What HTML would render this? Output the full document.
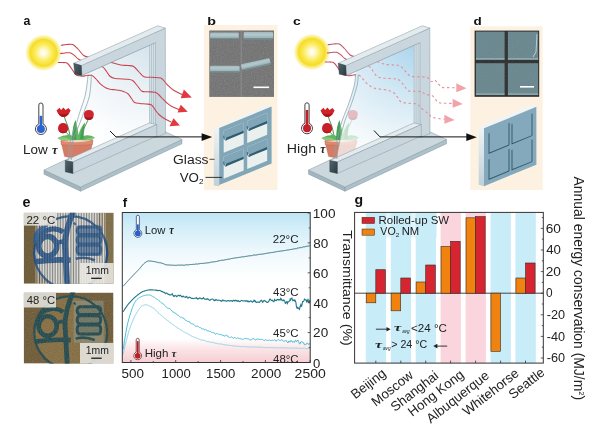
<!DOCTYPE html>
<html><head><meta charset="utf-8"><title>Figure</title>
<style>html,body{margin:0;padding:0;background:#fff;} svg{display:block;}</style>
</head><body><svg width="606" height="439" viewBox="0 0 606 439">
<defs>
 <radialGradient id="sunG" cx="0.5" cy="0.5" r="0.5">
  <stop offset="0" stop-color="#ffffff"/>
  <stop offset="0.14" stop-color="#fffbe0"/>
  <stop offset="0.45" stop-color="#fbec5e"/>
  <stop offset="0.72" stop-color="#f6dc26"/>
  <stop offset="0.77" stop-color="#f8e655"/>
  <stop offset="0.9" stop-color="#fbf1a0" stop-opacity="0.8"/>
  <stop offset="1" stop-color="#fdf8d0" stop-opacity="0"/>
 </radialGradient>
 <radialGradient id="glassA" gradientUnits="userSpaceOnUse" cx="153" cy="40" r="125">
  <stop offset="0" stop-color="#d2e2eb"/>
  <stop offset="0.4" stop-color="#e9f1f5"/>
  <stop offset="0.8" stop-color="#fcfdfe"/>
  <stop offset="1" stop-color="#ffffff"/>
 </radialGradient>
 <radialGradient id="glassC" gradientUnits="userSpaceOnUse" cx="153" cy="40" r="125">
  <stop offset="0" stop-color="#a8d3ed"/>
  <stop offset="0.45" stop-color="#d2e8f4"/>
  <stop offset="0.85" stop-color="#f2f8fb"/>
  <stop offset="1" stop-color="#fafcfe"/>
 </radialGradient>
 <linearGradient id="endG" x1="0" y1="0" x2="1" y2="1">
  <stop offset="0" stop-color="#52666e"/>
  <stop offset="1" stop-color="#2c3a40"/>
 </linearGradient>
 <linearGradient id="fBg" x1="0" y1="0" x2="0" y2="1">
  <stop offset="0" stop-color="#bde4f5"/>
  <stop offset="0.1" stop-color="#d3eef9"/>
  <stop offset="0.3" stop-color="#f3fafd"/>
  <stop offset="0.45" stop-color="#ffffff"/>
  <stop offset="0.84" stop-color="#ffffff"/>
  <stop offset="0.91" stop-color="#fbe4e7"/>
  <stop offset="1" stop-color="#f6ced3"/>
 </linearGradient>
 <filter id="semNoise" x="0" y="0" width="1" height="1">
  <feTurbulence type="fractalNoise" baseFrequency="0.9" numOctaves="2" seed="4" result="n"/>
  <feColorMatrix type="matrix" values="0 0 0 0 0.45  0 0 0 0 0.45  0 0 0 0 0.45  0.9 0 0 0 -0.1" in="n" result="c"/>
  <feComposite in="c" in2="SourceGraphic" operator="in"/>
 </filter>
 <filter id="soft" x="-0.2" y="-0.2" width="1.4" height="1.4"><feGaussianBlur stdDeviation="0.35"/></filter>
 <filter id="blur1" x="-0.2" y="-0.2" width="1.4" height="1.4"><feGaussianBlur stdDeviation="0.8"/></filter>
 <marker id="ah" viewBox="0 0 10 10" refX="9" refY="5" markerWidth="10" markerHeight="10" markerUnits="userSpaceOnUse" orient="auto">
  <path d="M0,0 L10,5 L0,10 z" fill="#111"/>
 </marker>
 <pattern id="stripes" patternUnits="userSpaceOnUse" width="1.62" height="10">
  <rect x="0" y="0" width="0.75" height="10" fill="#ffffff" opacity="0.7"/>
  <rect x="0.85" y="0" width="0.7" height="10" fill="#4a4a4a" opacity="0.4"/>
 </pattern>
 <linearGradient id="tubeG" x1="0" y1="0" x2="0" y2="1">
  <stop offset="0" stop-color="#9fb8be"/>
  <stop offset="0.35" stop-color="#b4c9cd"/>
  <stop offset="1" stop-color="#8fa8ae"/>
 </linearGradient>
 <linearGradient id="sideG" x1="0" y1="0" x2="0" y2="1">
  <stop offset="0" stop-color="#eef3f6"/>
  <stop offset="1" stop-color="#bfd0d8"/>
 </linearGradient>
</defs>
<rect x="0" y="0" width="606" height="439" fill="#ffffff"/><text transform="translate(23.53,25.20) scale(0.900,1)" font-family='"Liberation Sans", Arial, Helvetica, sans-serif' font-size="13.70" font-weight="bold" fill="#111">a</text><circle cx="43.5" cy="52.8" r="18.5" fill="url(#sunG)"/><g transform="translate(0,0)"><polygon points="44.0,170.0 80.5,187.0 80.5,191.2 44.0,174.2" fill="#a3b6bf" stroke="#8599a3" stroke-width="0.5"/><polygon points="80.5,187.0 182.0,139.5 182.0,143.7 80.5,191.2" fill="#aec0c9" stroke="#8599a3" stroke-width="0.5"/><polygon points="44.0,170.0 80.5,187.0 182.0,139.5 145.5,122.5" fill="#cbd8de" stroke="#8599a3" stroke-width="0.5"/><path d="M88.10,72.78 L149.4,45.4 L149.4,126 L68.70,162.00 L68.70,160.00 C68.80,158.00 68.92,151.58 69.30,148.00 C69.68,144.42 70.30,141.33 71.00,138.50 C71.70,135.67 72.55,133.67 73.50,131.00 C74.45,128.33 75.53,126.00 76.70,122.50 C77.87,119.00 79.17,114.18 80.50,110.00 C81.83,105.82 83.65,101.40 84.70,97.40 C85.75,93.40 86.23,89.80 86.80,86.00 C87.37,82.20 87.88,76.50 88.10,74.60 Z" fill="url(#glassA)"/></g><g transform="translate(0,0)"><path d="M71,140 Q69,127 64,116 M72,140 Q68,133 63.5,130 M80,139 Q84,127 88.5,119" stroke="#3f8a3a" stroke-width="0.9" fill="none"/><path d="M57.5,138 Q66,133.5 73,136 Q72,128 75.5,120 Q78,129 78.5,135 Q80.5,127 85,122.5 Q83,131 83,136 Q89,134 95,137.5 Q85,142 72,141.5 Q63,141 57.5,138 Z" fill="#62b564"/><path d="M75.5,120 Q76.5,130 76,140 L72,140 Q72,128 75.5,120 Z M85,122.5 Q84,132 83.5,139 L80,139 Q81,129 85,122.5 Z" fill="#3f9a4c" opacity="0.8"/><path d="M57.5,138 Q66,136 71,140 L60,140 Z M95,137.5 Q88,137 84,140 L92,140 Z" fill="#88cc78"/><path d="M60.9,141 L92.8,140.5 L89.8,156 Q77,159.5 64.6,156.5 Z" fill="#d67c64" stroke="#b0624f" stroke-width="0.4"/><path d="M60.9,140.6 L92.8,140.2 L92.4,144.6 Q77,146.2 61.3,144.8 Z" fill="#dc8a70" stroke="#b0624f" stroke-width="0.35"/><path d="M61.6,141 Q77,139 92,140.6 Q77,143.5 61.6,141 Z" fill="#e8dcc4"/><path d="M56.5,110.5 L59.5,107.8 L61,110 L63.5,107.4 L65.5,110 L68.5,108 L70.6,110.5 L68.5,114.5 Q66,117.5 63,117 Q59,116.5 56.5,110.5 Z" fill="#cf2328"/><path d="M58.5,113 Q63,115.5 68.5,113 Q66,117.3 63,117 Q60,116.6 58.5,113 Z" fill="#a3161c"/><ellipse cx="63.1" cy="128.2" rx="5.1" ry="5.1" fill="#c81f28"/><path d="M58.5,130 Q63,134.5 68,130 Q66,133.3 63,133.3 Q60,133.2 58.5,130 Z" fill="#9c141b"/><path d="M83.9,114.5 Q84,110 88.8,110 Q93.8,110 93.8,114.5 Q93.5,120 88.8,120 Q84,120 83.9,114.5 Z" fill="#cd2630"/><path d="M84.5,116.5 Q88.8,119 93.2,116.5 Q92,120 88.8,120 Q85.5,120 84.5,116.5 Z" fill="#a0161d"/></g><g transform="translate(0,0)"><polygon points="149.4,45.4 155.5,42.7 155.5,130.0 149.4,127.0" fill="#d9e4ea"/><path d="M149.6,45.4 L149.6,126.5 M151.6,44.5 L151.6,127.5 M153.6,43.6 L153.6,128.5" stroke="#9fb4bf" stroke-width="0.7" fill="none"/><polygon points="81.3,65.6 165.3,28.1 165.5,133.5 155.5,137.5 155.5,42.6 81.8,75.5" fill="#c9d6dd" stroke="#8599a3" stroke-width="0.5" stroke-linejoin="round"/><polygon points="68.0,162.0 149.4,126.0 155.5,130.0 155.5,133.0 70.0,170.0" fill="#d5e0e6"/><path d="M70,163.5 L151.6,127.5 M71,165.5 L153.6,128.8" stroke="#a9bcc6" stroke-width="0.6" fill="none"/></g><path d="M61.20,45.30 C62.17,45.17 65.07,44.62 67.00,44.50 C68.93,44.38 70.97,43.85 72.80,44.60 C74.63,45.35 76.18,47.18 78.00,49.00 C79.82,50.82 81.70,54.08 83.70,55.50 C85.70,56.92 87.62,57.08 90.00,57.50 C92.38,57.92 95.50,57.58 98.00,58.00 C100.50,58.42 102.48,59.17 105.00,60.00 C107.52,60.83 110.48,62.15 113.10,63.00 C115.72,63.85 118.22,64.68 120.70,65.10 C123.18,65.52 125.83,65.27 128.00,65.50 C130.17,65.73 131.87,65.42 133.70,66.50 C135.53,67.58 137.28,70.30 139.00,72.00 C140.72,73.70 141.83,75.82 144.00,76.70 C146.17,77.58 149.22,77.08 152.00,77.30 C154.78,77.52 158.53,77.22 160.70,78.00 C162.87,78.78 163.78,80.75 165.00,82.00 C166.22,83.25 166.50,84.08 168.00,85.50 C169.50,86.92 171.67,89.00 174.00,90.50 C176.33,92.00 180.67,93.83 182.00,94.50" stroke="#c9444f" stroke-width="1.05" fill="none" stroke-linecap="round"/><path d="M60.50,53.50 C61.25,53.42 63.42,53.12 65.00,53.00 C66.58,52.88 68.42,52.38 70.00,52.80 C71.58,53.22 73.12,54.47 74.50,55.50 C75.88,56.53 76.55,57.92 78.30,59.00 C80.05,60.08 82.22,61.17 85.00,62.00 C87.78,62.83 92.02,63.15 95.00,64.00 C97.98,64.85 100.98,65.85 102.90,67.10 C104.82,68.35 105.37,70.02 106.50,71.50 C107.63,72.98 108.45,74.87 109.70,76.00 C110.95,77.13 112.40,77.83 114.00,78.30 C115.60,78.77 116.97,78.63 119.30,78.80 C121.63,78.97 125.77,79.02 128.00,79.30 C130.23,79.58 131.12,79.38 132.70,80.50 C134.28,81.62 135.97,84.20 137.50,86.00 C139.03,87.80 140.15,90.33 141.90,91.30 C143.65,92.27 145.78,91.65 148.00,91.80 C150.22,91.95 153.37,91.67 155.20,92.20 C157.03,92.73 157.82,93.95 159.00,95.00 C160.18,96.05 160.97,97.17 162.30,98.50 C163.63,99.83 165.40,101.67 167.00,103.00 C168.60,104.33 169.90,105.42 171.90,106.50 C173.90,107.58 177.82,109.00 179.00,109.50" stroke="#c9444f" stroke-width="1.05" fill="none" stroke-linecap="round"/><path d="M58.40,62.40 C59.17,62.43 61.52,62.47 63.00,62.60 C64.48,62.73 65.88,62.22 67.30,63.20 C68.72,64.18 70.13,66.65 71.50,68.50 C72.87,70.35 74.25,73.08 75.50,74.30 C76.75,75.52 77.85,75.48 79.00,75.80 C80.15,76.12 81.07,76.25 82.40,76.20 C83.73,76.15 85.40,75.62 87.00,75.50 C88.60,75.38 90.50,74.92 92.00,75.50 C93.50,76.08 94.67,77.65 96.00,79.00 C97.33,80.35 98.40,82.15 100.00,83.60 C101.60,85.05 103.93,86.77 105.60,87.70 C107.27,88.63 108.40,88.85 110.00,89.20 C111.60,89.55 113.53,89.58 115.20,89.80 C116.87,90.02 118.53,90.18 120.00,90.50 C121.47,90.82 122.63,91.12 124.00,91.70 C125.37,92.28 126.95,92.87 128.20,94.00 C129.45,95.13 130.43,97.08 131.50,98.50 C132.57,99.92 133.18,101.67 134.60,102.50 C136.02,103.33 138.10,103.25 140.00,103.50 C141.90,103.75 144.13,103.78 146.00,104.00 C147.87,104.22 149.87,104.13 151.20,104.80 C152.53,105.47 153.20,106.97 154.00,108.00 C154.80,109.03 155.17,109.92 156.00,111.00 C156.83,112.08 157.68,113.30 159.00,114.50 C160.32,115.70 161.90,116.95 163.90,118.20 C165.90,119.45 169.82,121.37 171.00,122.00" stroke="#c9444f" stroke-width="1.05" fill="none" stroke-linecap="round"/><polygon points="191.8,97.5 183.9,89.5 180.7,98.3" fill="#e03a40"/><polygon points="187.8,111.8 180.7,104.7 177.5,112.6" fill="#e03a40"/><polygon points="179.9,125.4 173.5,118.2 169.5,126.2" fill="#e03a40"/><g transform="translate(0,0)"><polygon points="65.3,160.5 72.8,162.0 156.8,124.5 149.3,123.0" fill="#e4ebef" stroke="#8599a3" stroke-width="0.5"/><polygon points="72.8,162.0 72.8,173.5 156.8,136.0 156.8,124.5" fill="#c9d6dd" stroke="#8599a3" stroke-width="0.5"/><polygon points="65.3,160.5 72.8,162.0 72.8,173.5 65.3,171.8" fill="url(#endG)" stroke="#25333a" stroke-width="0.4"/></g><g transform="translate(0,0)"><polygon points="81.3,65.6 155.5,32.5 155.5,42.6 81.8,75.5" fill="#c9d6dd"/><path d="M81.8,75.5 L155.5,42.60" stroke="#8599a3" stroke-width="0.5"/><polygon points="73.7,63.3 81.3,65.6 165.3,28.1 157.7,25.8" fill="#e4ebef" stroke="#8599a3" stroke-width="0.5"/><polygon points="73.7,63.3 81.3,65.6 81.8,75.5 74.8,74.2" fill="url(#endG)" stroke="#25333a" stroke-width="0.4"/></g><path d="M88.10,74.60 C87.88,76.50 87.37,82.20 86.80,86.00 C86.23,89.80 85.75,93.40 84.70,97.40 C83.65,101.40 81.83,105.82 80.50,110.00 C79.17,114.18 77.87,119.00 76.70,122.50 C75.53,126.00 74.45,128.33 73.50,131.00 C72.55,133.67 71.70,135.67 71.00,138.50 C70.30,141.33 69.68,144.42 69.30,148.00 C68.92,151.58 68.80,158.00 68.70,160.00" stroke="#8aa3ae" stroke-width="0.75" fill="none"/><path d="M91.50,74.00 C91.37,76.00 91.08,82.17 90.70,86.00 C90.32,89.83 90.20,93.00 89.20,97.00 C88.20,101.00 86.22,105.75 84.70,110.00 C83.18,114.25 81.47,119.00 80.10,122.50 C78.73,126.00 77.63,128.33 76.50,131.00 C75.37,133.67 74.07,135.67 73.30,138.50 C72.53,141.33 72.22,144.42 71.90,148.00 C71.58,151.58 71.48,158.00 71.40,160.00" stroke="#8aa3ae" stroke-width="0.75" fill="none"/><path d="M38.80,123.92 L38.80,105.10 A2.10,2.10 0 0 1 43.00,105.10 L43.00,123.92 A5.50,5.50 0 1 1 38.80,123.92 Z" fill="#fff" stroke="#444" stroke-width="1.00"/><rect x="39.60" y="115.8" width="2.60" height="13.200000000000003" fill="#2a64d0"/><circle cx="40.9" cy="129" r="4.00" fill="#2a64d0"/><text transform="translate(22.92,153.80) scale(1.047,1)" font-family='"Liberation Sans", Arial, Helvetica, sans-serif' font-size="12.90" fill="#222">Low</text><text transform="translate(52.05,153.80) scale(0.988,1)" font-family='"Liberation Serif", "DejaVu Serif", serif' font-size="12.83" font-weight="bold" font-style="italic" fill="#222">τ</text><text transform="translate(207.27,25.10) scale(1.292,1)" font-family='"Liberation Sans", Arial, Helvetica, sans-serif' font-size="11.03" font-weight="bold" fill="#111">b</text><rect x="204" y="25" width="73.5" height="165" fill="#fdf2e2"/><rect x="209.3" y="30.5" width="64.7" height="66.4" fill="#6d6d6d"/><rect x="209.3" y="30.5" width="64.7" height="66.4" fill="#888" filter="url(#semNoise)" opacity="0.45"/><rect x="240.6" y="30.5" width="1.2" height="66.4" fill="#8b8b8b"/><rect x="209.3" y="63.5" width="64.7" height="0.8" fill="#7b7b7b"/><g transform="rotate(0,210.1,35.85)"><rect x="210.1" y="32.6" width="28.7" height="6.5" rx="1.2" fill="url(#tubeG)"/><rect x="210.4" y="37.9" width="28.099999999999998" height="1.0" fill="#5f7d86" opacity="0.7"/></g><g transform="rotate(0,243.7,35.7)"><rect x="243.7" y="32.1" width="29.5" height="7.2" rx="1.2" fill="url(#tubeG)"/><rect x="244.0" y="38.1" width="28.9" height="1.0" fill="#5f7d86" opacity="0.7"/></g><g transform="rotate(0,210.1,69.0)"><rect x="210.1" y="65.7" width="29.5" height="6.6" rx="1.2" fill="url(#tubeG)"/><rect x="210.4" y="71.1" width="28.9" height="1.0" fill="#5f7d86" opacity="0.7"/></g><g transform="rotate(-12.6,241.5,67.45)"><rect x="241.5" y="64.3" width="29.3" height="6.3" rx="1.2" fill="url(#tubeG)"/><rect x="241.8" y="69.39999999999999" width="28.7" height="1.0" fill="#5f7d86" opacity="0.7"/></g><line x1="253.5" y1="87.3" x2="269.1" y2="87.3" stroke="#fff" stroke-width="1.6"/><polygon points="213.8,128.8 219.2,128 219.2,186.3 213.8,185.5" fill="url(#sideG)"/><polygon points="213.8,128.8 219.2,128 271.8,106.4 267,105.6" fill="#eef4f7"/><g transform="matrix(1,-0.41,0,1,219.2,128)"><rect x="0" y="0" width="52.4" height="57" fill="#80a6b8"/><rect x="4.5" y="4.5" width="20" height="22" fill="#e9f0ee"/><rect x="4.5" y="4.5" width="20" height="8" fill="#80a6b8"/><rect x="6.5" y="12.5" width="18" height="2.6" fill="#2e5e70"/><path d="M4.5,9.5 q0,5 3,5.5" stroke="#2e5e70" stroke-width="0.8" fill="none"/><rect x="4.5" y="30.5" width="20" height="22" fill="#e9f0ee"/><rect x="4.5" y="30.5" width="20" height="8" fill="#80a6b8"/><rect x="6.5" y="38.5" width="18" height="2.6" fill="#2e5e70"/><path d="M4.5,35.5 q0,5 3,5.5" stroke="#2e5e70" stroke-width="0.8" fill="none"/><rect x="28" y="4.5" width="20" height="22" fill="#e9f0ee"/><rect x="28" y="4.5" width="20" height="8" fill="#80a6b8"/><rect x="30" y="12.5" width="18" height="2.6" fill="#2e5e70"/><path d="M28,9.5 q0,5 3,5.5" stroke="#2e5e70" stroke-width="0.8" fill="none"/><rect x="28" y="30.5" width="20" height="22" fill="#e9f0ee"/><rect x="28" y="30.5" width="20" height="8" fill="#80a6b8"/><rect x="30" y="38.5" width="18" height="2.6" fill="#2e5e70"/><path d="M28,35.5 q0,5 3,5.5" stroke="#2e5e70" stroke-width="0.8" fill="none"/></g><text transform="translate(173.00,163.50) scale(1.122,1)" font-family='"Liberation Sans", Arial, Helvetica, sans-serif' font-size="12.41" fill="#222">Glass</text><line x1="209.5" y1="159.3" x2="214.5" y2="159.3" stroke="#222" stroke-width="0.8"/><text transform="translate(179.73,181.60) scale(1.083,1)" font-family='"Liberation Sans", Arial, Helvetica, sans-serif' font-size="12.29" fill="#222">VO</text><text transform="translate(199.09,184.40) scale(1.265,1)" font-family='"Liberation Sans", Arial, Helvetica, sans-serif' font-size="6.43" fill="#222">2</text><line x1="205.5" y1="177.4" x2="222" y2="177.4" stroke="#222" stroke-width="0.9"/><polyline points="110,131 116,136.9 203,136.9" stroke="#111" stroke-width="1" fill="none"/><polygon points="201.6,133.3 212.2,137 201.6,141" fill="#111"/><text transform="translate(292.95,25.10) scale(1.203,1)" font-family='"Liberation Sans", Arial, Helvetica, sans-serif' font-size="11.48" font-weight="bold" fill="#111">c</text><circle cx="311.9" cy="52" r="18.5" fill="url(#sunG)"/><g transform="translate(264.5,0)"><polygon points="44.0,170.0 80.5,187.0 80.5,191.2 44.0,174.2" fill="#a3b6bf" stroke="#8599a3" stroke-width="0.5"/><polygon points="80.5,187.0 182.0,139.5 182.0,143.7 80.5,191.2" fill="#aec0c9" stroke="#8599a3" stroke-width="0.5"/><polygon points="44.0,170.0 80.5,187.0 182.0,139.5 145.5,122.5" fill="#cbd8de" stroke="#8599a3" stroke-width="0.5"/><path d="M91.00,71.49 L149.4,45.4 L149.4,126 L69.50,161.00 L69.50,159.00 C69.67,157.67 70.07,153.67 70.50,151.00 C70.93,148.33 71.55,145.67 72.10,143.00 C72.65,140.33 73.23,137.50 73.80,135.00 C74.37,132.50 74.88,130.33 75.50,128.00 C76.12,125.67 76.75,123.25 77.50,121.00 C78.25,118.75 79.12,116.77 80.00,114.50 C80.88,112.23 81.83,109.98 82.80,107.40 C83.77,104.82 84.88,101.73 85.80,99.00 C86.72,96.27 87.55,93.67 88.30,91.00 C89.05,88.33 89.85,85.73 90.30,83.00 C90.75,80.27 90.88,76.00 91.00,74.60 Z" fill="url(#glassC)"/></g><g transform="translate(264.0,0)"><path d="M71,140 Q69,127 64,116 M72,140 Q68,133 63.5,130 M80,139 Q84,127 88.5,119" stroke="#3f8a3a" stroke-width="0.9" fill="none"/><path d="M57.5,138 Q66,133.5 73,136 Q72,128 75.5,120 Q78,129 78.5,135 Q80.5,127 85,122.5 Q83,131 83,136 Q89,134 95,137.5 Q85,142 72,141.5 Q63,141 57.5,138 Z" fill="#62b564"/><path d="M75.5,120 Q76.5,130 76,140 L72,140 Q72,128 75.5,120 Z M85,122.5 Q84,132 83.5,139 L80,139 Q81,129 85,122.5 Z" fill="#3f9a4c" opacity="0.8"/><path d="M57.5,138 Q66,136 71,140 L60,140 Z M95,137.5 Q88,137 84,140 L92,140 Z" fill="#88cc78"/><path d="M60.9,141 L92.8,140.5 L89.8,156 Q77,159.5 64.6,156.5 Z" fill="#d67c64" stroke="#b0624f" stroke-width="0.4"/><path d="M60.9,140.6 L92.8,140.2 L92.4,144.6 Q77,146.2 61.3,144.8 Z" fill="#dc8a70" stroke="#b0624f" stroke-width="0.35"/><path d="M61.6,141 Q77,139 92,140.6 Q77,143.5 61.6,141 Z" fill="#e8dcc4"/><path d="M56.5,110.5 L59.5,107.8 L61,110 L63.5,107.4 L65.5,110 L68.5,108 L70.6,110.5 L68.5,114.5 Q66,117.5 63,117 Q59,116.5 56.5,110.5 Z" fill="#cf2328"/><path d="M58.5,113 Q63,115.5 68.5,113 Q66,117.3 63,117 Q60,116.6 58.5,113 Z" fill="#a3161c"/><ellipse cx="63.1" cy="128.2" rx="5.1" ry="5.1" fill="#c81f28"/><path d="M58.5,130 Q63,134.5 68,130 Q66,133.3 63,133.3 Q60,133.2 58.5,130 Z" fill="#9c141b"/><path d="M83.9,114.5 Q84,110 88.8,110 Q93.8,110 93.8,114.5 Q93.5,120 88.8,120 Q84,120 83.9,114.5 Z" fill="#cd2630"/><path d="M84.5,116.5 Q88.8,119 93.2,116.5 Q92,120 88.8,120 Q85.5,120 84.5,116.5 Z" fill="#a0161d"/></g><g transform="translate(264.5,0)"><path d="M93.80,74.60 C93.68,76.00 93.55,80.27 93.10,83.00 C92.65,85.73 91.85,88.33 91.10,91.00 C90.35,93.67 89.52,96.27 88.60,99.00 C87.68,101.73 86.57,104.82 85.60,107.40 C84.63,109.98 83.68,112.23 82.80,114.50 C81.92,116.77 81.05,118.75 80.30,121.00 C79.55,123.25 78.92,125.67 78.30,128.00 C77.68,130.33 77.17,132.50 76.60,135.00 C76.03,137.50 75.45,140.33 74.90,143.00 C74.35,145.67 73.73,148.33 73.30,151.00 C72.87,153.67 72.47,157.67 72.30,159.00 L72,163 L149.4,127 L149.4,45 Z" fill="url(#glassC)" opacity="0.72"/></g><g transform="translate(264.5,0)"><polygon points="149.4,45.4 155.5,42.7 155.5,130.0 149.4,127.0" fill="#d9e4ea"/><path d="M149.6,45.4 L149.6,126.5 M151.6,44.5 L151.6,127.5 M153.6,43.6 L153.6,128.5" stroke="#9fb4bf" stroke-width="0.7" fill="none"/><polygon points="81.3,65.6 165.3,28.1 165.5,133.5 155.5,137.5 155.5,42.6 81.8,75.5" fill="#c9d6dd" stroke="#8599a3" stroke-width="0.5" stroke-linejoin="round"/><polygon points="68.0,162.0 149.4,126.0 155.5,130.0 155.5,133.0 70.0,170.0" fill="#d5e0e6"/><path d="M70,163.5 L151.6,127.5 M71,165.5 L153.6,128.8" stroke="#a9bcc6" stroke-width="0.6" fill="none"/></g><clipPath id="glassside"><rect x="356.5" y="0" width="150" height="200"/></clipPath><path d="M327.70,44.80 C328.67,44.67 331.57,44.12 333.50,44.00 C335.43,43.88 337.47,43.35 339.30,44.10 C341.13,44.85 342.68,46.68 344.50,48.50 C346.32,50.32 348.20,53.58 350.20,55.00 C352.20,56.42 354.12,56.58 356.50,57.00 C358.88,57.42 362.00,57.08 364.50,57.50 C367.00,57.92 368.98,58.67 371.50,59.50 C374.02,60.33 376.98,61.65 379.60,62.50 C382.22,63.35 384.72,64.18 387.20,64.60 C389.68,65.02 392.33,64.77 394.50,65.00 C396.67,65.23 398.37,64.92 400.20,66.00 C402.03,67.08 403.78,69.80 405.50,71.50 C407.22,73.20 408.33,75.32 410.50,76.20 C412.67,77.08 415.72,76.58 418.50,76.80 C421.28,77.02 425.03,76.72 427.20,77.50 C429.37,78.28 430.27,81.08 431.50,81.50 C432.73,81.92 433.43,79.58 434.60,80.00 C435.77,80.42 437.28,82.78 438.50,84.00 C439.72,85.22 440.32,86.70 441.90,87.30 C443.48,87.90 445.65,87.52 448.00,87.60 C450.35,87.68 454.67,87.77 456.00,87.80" stroke="#e48f99" stroke-width="1.1" fill="none" stroke-dasharray="2.4,2.6" clip-path="url(#glassside)"/><path d="M327.00,53.00 C327.75,52.92 329.92,52.62 331.50,52.50 C333.08,52.38 334.92,51.88 336.50,52.30 C338.08,52.72 339.62,53.97 341.00,55.00 C342.38,56.03 343.05,57.42 344.80,58.50 C346.55,59.58 348.72,60.67 351.50,61.50 C354.28,62.33 358.52,62.65 361.50,63.50 C364.48,64.35 367.48,65.35 369.40,66.60 C371.32,67.85 371.87,69.52 373.00,71.00 C374.13,72.48 374.95,74.37 376.20,75.50 C377.45,76.63 378.90,77.33 380.50,77.80 C382.10,78.27 383.47,78.13 385.80,78.30 C388.13,78.47 392.27,78.52 394.50,78.80 C396.73,79.08 397.62,78.88 399.20,80.00 C400.78,81.12 402.47,83.70 404.00,85.50 C405.53,87.30 406.65,89.83 408.40,90.80 C410.15,91.77 412.28,91.15 414.50,91.30 C416.72,91.45 419.87,91.17 421.70,91.70 C423.53,92.23 423.80,93.87 425.50,94.50 C427.20,95.13 430.23,94.67 431.90,95.50 C433.57,96.33 434.28,98.28 435.50,99.50 C436.72,100.72 437.45,102.18 439.20,102.80 C440.95,103.42 443.70,103.10 446.00,103.20 C448.30,103.30 451.83,103.37 453.00,103.40" stroke="#e48f99" stroke-width="1.1" fill="none" stroke-dasharray="2.4,2.6" clip-path="url(#glassside)"/><path d="M324.90,61.90 C325.67,61.93 328.02,61.97 329.50,62.10 C330.98,62.23 332.38,61.72 333.80,62.70 C335.22,63.68 336.63,66.15 338.00,68.00 C339.37,69.85 340.75,72.58 342.00,73.80 C343.25,75.02 344.35,74.98 345.50,75.30 C346.65,75.62 347.57,75.75 348.90,75.70 C350.23,75.65 351.90,75.12 353.50,75.00 C355.10,74.88 357.00,74.42 358.50,75.00 C360.00,75.58 361.17,77.15 362.50,78.50 C363.83,79.85 364.90,81.65 366.50,83.10 C368.10,84.55 370.43,86.27 372.10,87.20 C373.77,88.13 374.90,88.35 376.50,88.70 C378.10,89.05 380.03,89.08 381.70,89.30 C383.37,89.52 385.03,89.68 386.50,90.00 C387.97,90.32 389.13,90.62 390.50,91.20 C391.87,91.78 393.45,92.37 394.70,93.50 C395.95,94.63 396.93,96.58 398.00,98.00 C399.07,99.42 399.68,101.17 401.10,102.00 C402.52,102.83 404.60,102.75 406.50,103.00 C408.40,103.25 410.63,103.28 412.50,103.50 C414.37,103.72 416.37,103.63 417.70,104.30 C419.03,104.97 418.90,106.08 420.50,107.50 C422.10,108.92 425.72,111.47 427.30,112.80 C428.88,114.13 429.08,114.73 430.00,115.50 C430.92,116.27 431.47,116.90 432.80,117.40 C434.13,117.90 435.97,118.20 438.00,118.50 C440.03,118.80 443.83,119.08 445.00,119.20" stroke="#e48f99" stroke-width="1.1" fill="none" stroke-dasharray="2.4,2.6" clip-path="url(#glassside)"/><clipPath id="sunside"><rect x="300" y="0" width="56" height="120"/></clipPath><path d="M327.70,44.80 C328.67,44.67 331.57,44.12 333.50,44.00 C335.43,43.88 337.47,43.35 339.30,44.10 C341.13,44.85 342.68,46.68 344.50,48.50 C346.32,50.32 348.20,53.58 350.20,55.00 C352.20,56.42 354.12,56.58 356.50,57.00 C358.88,57.42 362.00,57.08 364.50,57.50 C367.00,57.92 368.98,58.67 371.50,59.50 C374.02,60.33 376.98,61.65 379.60,62.50 C382.22,63.35 384.72,64.18 387.20,64.60 C389.68,65.02 392.33,64.77 394.50,65.00 C396.67,65.23 398.37,64.92 400.20,66.00 C402.03,67.08 403.78,69.80 405.50,71.50 C407.22,73.20 408.33,75.32 410.50,76.20 C412.67,77.08 415.72,76.58 418.50,76.80 C421.28,77.02 425.03,76.72 427.20,77.50 C429.37,78.28 430.27,81.08 431.50,81.50 C432.73,81.92 433.43,79.58 434.60,80.00 C435.77,80.42 437.28,82.78 438.50,84.00 C439.72,85.22 440.32,86.70 441.90,87.30 C443.48,87.90 445.65,87.52 448.00,87.60 C450.35,87.68 454.67,87.77 456.00,87.80" stroke="#c45468" stroke-width="1.05" fill="none" clip-path="url(#sunside)"/><path d="M327.00,53.00 C327.75,52.92 329.92,52.62 331.50,52.50 C333.08,52.38 334.92,51.88 336.50,52.30 C338.08,52.72 339.62,53.97 341.00,55.00 C342.38,56.03 343.05,57.42 344.80,58.50 C346.55,59.58 348.72,60.67 351.50,61.50 C354.28,62.33 358.52,62.65 361.50,63.50 C364.48,64.35 367.48,65.35 369.40,66.60 C371.32,67.85 371.87,69.52 373.00,71.00 C374.13,72.48 374.95,74.37 376.20,75.50 C377.45,76.63 378.90,77.33 380.50,77.80 C382.10,78.27 383.47,78.13 385.80,78.30 C388.13,78.47 392.27,78.52 394.50,78.80 C396.73,79.08 397.62,78.88 399.20,80.00 C400.78,81.12 402.47,83.70 404.00,85.50 C405.53,87.30 406.65,89.83 408.40,90.80 C410.15,91.77 412.28,91.15 414.50,91.30 C416.72,91.45 419.87,91.17 421.70,91.70 C423.53,92.23 423.80,93.87 425.50,94.50 C427.20,95.13 430.23,94.67 431.90,95.50 C433.57,96.33 434.28,98.28 435.50,99.50 C436.72,100.72 437.45,102.18 439.20,102.80 C440.95,103.42 443.70,103.10 446.00,103.20 C448.30,103.30 451.83,103.37 453.00,103.40" stroke="#c45468" stroke-width="1.05" fill="none" clip-path="url(#sunside)"/><path d="M324.90,61.90 C325.67,61.93 328.02,61.97 329.50,62.10 C330.98,62.23 332.38,61.72 333.80,62.70 C335.22,63.68 336.63,66.15 338.00,68.00 C339.37,69.85 340.75,72.58 342.00,73.80 C343.25,75.02 344.35,74.98 345.50,75.30 C346.65,75.62 347.57,75.75 348.90,75.70 C350.23,75.65 351.90,75.12 353.50,75.00 C355.10,74.88 357.00,74.42 358.50,75.00 C360.00,75.58 361.17,77.15 362.50,78.50 C363.83,79.85 364.90,81.65 366.50,83.10 C368.10,84.55 370.43,86.27 372.10,87.20 C373.77,88.13 374.90,88.35 376.50,88.70 C378.10,89.05 380.03,89.08 381.70,89.30 C383.37,89.52 385.03,89.68 386.50,90.00 C387.97,90.32 389.13,90.62 390.50,91.20 C391.87,91.78 393.45,92.37 394.70,93.50 C395.95,94.63 396.93,96.58 398.00,98.00 C399.07,99.42 399.68,101.17 401.10,102.00 C402.52,102.83 404.60,102.75 406.50,103.00 C408.40,103.25 410.63,103.28 412.50,103.50 C414.37,103.72 416.37,103.63 417.70,104.30 C419.03,104.97 418.90,106.08 420.50,107.50 C422.10,108.92 425.72,111.47 427.30,112.80 C428.88,114.13 429.08,114.73 430.00,115.50 C430.92,116.27 431.47,116.90 432.80,117.40 C434.13,117.90 435.97,118.20 438.00,118.50 C440.03,118.80 443.83,119.08 445.00,119.20" stroke="#c45468" stroke-width="1.05" fill="none" clip-path="url(#sunside)"/><polygon points="466.5,88.3 456.3,83.2 456.3,92.2" fill="#f1a3aa"/><polygon points="462.8,103.9 452.6,98.8 452.6,107.8" fill="#f1a3aa"/><polygon points="454.6,120.0 444.4,114.8 444.4,123.8" fill="#f1a3aa"/><g transform="translate(264.5,0)"><polygon points="65.3,160.5 72.8,162.0 156.8,124.5 149.3,123.0" fill="#e4ebef" stroke="#8599a3" stroke-width="0.5"/><polygon points="72.8,162.0 72.8,173.5 156.8,136.0 156.8,124.5" fill="#c9d6dd" stroke="#8599a3" stroke-width="0.5"/><polygon points="65.3,160.5 72.8,162.0 72.8,173.5 65.3,171.8" fill="url(#endG)" stroke="#25333a" stroke-width="0.4"/></g><g transform="translate(264.5,0)"><polygon points="81.3,65.6 155.5,32.5 155.5,42.6 81.8,75.5" fill="#c9d6dd"/><path d="M81.8,75.5 L155.5,42.60" stroke="#8599a3" stroke-width="0.5"/><polygon points="73.7,63.3 81.3,65.6 165.3,28.1 157.7,25.8" fill="#e4ebef" stroke="#8599a3" stroke-width="0.5"/><polygon points="73.7,63.3 81.3,65.6 81.8,75.5 74.8,74.2" fill="url(#endG)" stroke="#25333a" stroke-width="0.4"/></g><path d="M355.50,74.60 C355.38,76.00 355.25,80.27 354.80,83.00 C354.35,85.73 353.55,88.33 352.80,91.00 C352.05,93.67 351.22,96.27 350.30,99.00 C349.38,101.73 348.27,104.82 347.30,107.40 C346.33,109.98 345.38,112.23 344.50,114.50 C343.62,116.77 342.75,118.75 342.00,121.00 C341.25,123.25 340.62,125.67 340.00,128.00 C339.38,130.33 338.87,132.50 338.30,135.00 C337.73,137.50 337.15,140.33 336.60,143.00 C336.05,145.67 335.43,148.33 335.00,151.00 C334.57,153.67 334.17,157.67 334.00,159.00" stroke="#8aa3ae" stroke-width="0.75" fill="none"/><path d="M358.30,74.60 C358.18,76.00 358.05,80.27 357.60,83.00 C357.15,85.73 356.35,88.33 355.60,91.00 C354.85,93.67 354.02,96.27 353.10,99.00 C352.18,101.73 351.07,104.82 350.10,107.40 C349.13,109.98 348.18,112.23 347.30,114.50 C346.42,116.77 345.55,118.75 344.80,121.00 C344.05,123.25 343.42,125.67 342.80,128.00 C342.18,130.33 341.67,132.50 341.10,135.00 C340.53,137.50 339.95,140.33 339.40,143.00 C338.85,145.67 338.23,148.33 337.80,151.00 C337.37,153.67 336.97,157.67 336.80,159.00" stroke="#8aa3ae" stroke-width="0.75" fill="none"/><path d="M304.90,123.22 L304.90,104.90 A2.10,2.10 0 0 1 309.10,104.90 L309.10,123.22 A5.50,5.50 0 1 1 304.90,123.22 Z" fill="#fff" stroke="#444" stroke-width="1.00"/><rect x="305.70" y="110" width="2.60" height="18.30000000000001" fill="#c41e2a"/><circle cx="307" cy="128.3" r="4.00" fill="#c41e2a"/><text transform="translate(286.86,152.60) scale(1.156,1)" font-family='"Liberation Sans", Arial, Helvetica, sans-serif' font-size="12.28" fill="#222">High</text><text transform="translate(320.37,152.60) scale(0.901,1)" font-family='"Liberation Serif", "DejaVu Serif", serif' font-size="12.83" font-weight="bold" font-style="italic" fill="#222">τ</text><text transform="translate(473.46,24.60) scale(1.191,1)" font-family='"Liberation Sans", Arial, Helvetica, sans-serif' font-size="11.31" font-weight="bold" fill="#111">d</text><rect x="470.3" y="26.3" width="72.4" height="163.7" fill="#fdf2e2"/><rect x="474.6" y="30.6" width="64.6" height="66.2" fill="#2b2c2c"/><rect x="475.9" y="31.6" width="28.7" height="28.4" fill="#68868e"/><rect x="475.9" y="58.4" width="28.7" height="0.9" fill="#b9ccd0" opacity="0.8"/><rect x="507.9" y="31.6" width="30.3" height="28.4" fill="#68868e"/><rect x="507.9" y="58.4" width="30.3" height="0.9" fill="#b9ccd0" opacity="0.8"/><rect x="475.9" y="63.2" width="28.7" height="32" fill="#68868e"/><rect x="475.9" y="93.60000000000001" width="28.7" height="0.9" fill="#b9ccd0" opacity="0.8"/><rect x="507.9" y="63.2" width="30.3" height="32" fill="#68868e"/><rect x="507.9" y="93.60000000000001" width="30.3" height="0.9" fill="#b9ccd0" opacity="0.8"/><rect x="475.9" y="31.6" width="62.3" height="63.6" fill="#7a9aa2" opacity="0.2" filter="url(#semNoise)"/><path d="M537,34 L536,52 L533,57" stroke="#dde6e8" stroke-width="0.7" fill="none"/><line x1="520" y1="86.8" x2="534" y2="86.8" stroke="#fff" stroke-width="1.6"/><polygon points="478.7,127.4 484,128.3 484,186.2 478.7,184.8" fill="url(#sideG)"/><polygon points="478.7,127.4 484,128.3 536.4,106.9 532,105.2" fill="#eef4f7"/><g transform="matrix(1,-0.41,0,1,484,128.3)"><rect x="0" y="0" width="52.4" height="57.9" fill="#84a9bc"/><path d="M5,7 L5,27 L25,27" stroke="#2f5566" stroke-width="0.9" fill="none"/><path d="M25,5 L25,27" stroke="#2f5566" stroke-width="0.9" fill="none"/><path d="M5,33 L5,53 L25,53" stroke="#2f5566" stroke-width="0.9" fill="none"/><path d="M25,31 L25,53" stroke="#2f5566" stroke-width="0.9" fill="none"/><path d="M28,7 L28,27 L48,27" stroke="#2f5566" stroke-width="0.9" fill="none"/><path d="M48,5 L48,27" stroke="#2f5566" stroke-width="0.9" fill="none"/><path d="M28,33 L28,53 L48,53" stroke="#2f5566" stroke-width="0.9" fill="none"/><path d="M48,31 L48,53" stroke="#2f5566" stroke-width="0.9" fill="none"/></g><polyline points="374,130.5 380,136.9 467,136.9" stroke="#111" stroke-width="1" fill="none"/><polygon points="466.3,133.3 476.8,137.2 466.3,141" fill="#111"/><text transform="translate(22.62,207.00) scale(0.995,1)" font-family='"Liberation Sans", Arial, Helvetica, sans-serif' font-size="14.44" font-weight="bold" fill="#111">e</text><clipPath id="clipP212"><rect x="23.7" y="212.7" width="89.8" height="71"/></clipPath><g clip-path="url(#clipP212)"><rect x="23.7" y="212.7" width="89.8" height="71" fill="#6a5833"/><g transform="translate(23.7,212.7)"><rect x="76" y="0" width="14" height="71" fill="#7d6b45"/><circle cx="47" cy="40" r="36.5" fill="#a9a8a0"/><rect x="12" y="0" width="62" height="12" fill="#a9a8a0"/><rect x="12" y="0" width="70" height="71" fill="url(#stripes)"/><circle cx="47" cy="40" r="36.5" fill="none" stroke="#174579" stroke-width="2.3"/><ellipse cx="24" cy="33.5" rx="9" ry="9.8" fill="none" stroke="#174579" stroke-width="5.6"/><path d="M14.5,33 Q13,19 27,16.5 Q35,15.5 39.5,19.5" fill="none" stroke="#174579" stroke-width="5.04"/><path d="M32.5,31 Q37,28 41,29" fill="none" stroke="#174579" stroke-width="4.4799999999999995"/><path d="M49.5,-1 Q41.5,18 41.3,32 L43.6,73" fill="none" stroke="#174579" stroke-width="5.88"/><path d="M11,49 Q30,46.3 47,47.5" fill="none" stroke="#174579" stroke-width="5.6"/><rect x="53" y="13" width="25" height="30" fill="#174579" opacity="0.7"/><rect x="53.5" y="14.2" width="23.5" height="7.6" rx="3.2" fill="none" stroke="#174579" stroke-width="3"/><rect x="53.5" y="23.2" width="23.5" height="8.2" rx="3.2" fill="none" stroke="#174579" stroke-width="3"/><rect x="53.5" y="32.5" width="23.5" height="9" rx="3.2" fill="none" stroke="#174579" stroke-width="3"/><path d="M52,46 Q62,43.5 71,47.5" fill="none" stroke="#174579" stroke-width="2.6"/><path d="M50,10 L52,12" fill="none" stroke="#174579" stroke-width="2"/><path d="M12,30 Q10,18 22,14" fill="none" stroke="#1f5288" stroke-width="4"/><rect x="12" y="0" width="70" height="71" fill="url(#stripes)" opacity="0.32"/><rect x="0" y="0" width="90" height="71" fill="#7a6a48" opacity="0.25" filter="url(#semNoise)"/></g></g><rect x="23.7" y="212.7" width="32.3" height="12.9" fill="#e6e5df" opacity="0.88"/><text transform="translate(26.42,224.10) scale(0.986,1)" font-family='"Liberation Sans", Arial, Helvetica, sans-serif' font-size="11.71" fill="#222">22 °C</text><rect x="80" y="263.0" width="33.5" height="20.7" fill="#e9e8e3" opacity="0.88"/><text transform="translate(85.82,273.90) scale(0.945,1)" font-family='"Liberation Sans", Arial, Helvetica, sans-serif' font-size="11.01" fill="#222">1mm</text><line x1="91.2" y1="278.3" x2="101.7" y2="278.3" stroke="#111" stroke-width="1.2"/><clipPath id="clipP292"><rect x="23.7" y="292.6" width="89.8" height="71"/></clipPath><g clip-path="url(#clipP292)"><rect x="23.7" y="292.6" width="89.8" height="71" fill="#6c5630"/><g transform="translate(23.7,292.6)"><circle cx="47" cy="40" r="36.5" fill="#836a3b"/><rect x="50" y="8" width="30" height="42" fill="#8e9588" opacity="0.55"/><circle cx="47" cy="40" r="36.5" fill="none" stroke="#1b4449" stroke-width="2.3"/><ellipse cx="24" cy="33.5" rx="9" ry="9.8" fill="none" stroke="#1b4449" stroke-width="4.6"/><path d="M14.5,33 Q13,19 27,16.5 Q35,15.5 39.5,19.5" fill="none" stroke="#1b4449" stroke-width="4.14"/><path d="M32.5,31 Q37,28 41,29" fill="none" stroke="#1b4449" stroke-width="3.6799999999999997"/><path d="M49.5,-1 Q41.5,18 41.3,32 L43.6,73" fill="none" stroke="#1b4449" stroke-width="4.83"/><path d="M11,49 Q30,46.3 47,47.5" fill="none" stroke="#1b4449" stroke-width="4.6"/><rect x="53" y="13" width="25" height="30" fill="#1b4449" opacity="0.25"/><rect x="53.5" y="14.2" width="23.5" height="7.6" rx="3.2" fill="none" stroke="#1b4449" stroke-width="3"/><rect x="53.5" y="23.2" width="23.5" height="8.2" rx="3.2" fill="none" stroke="#1b4449" stroke-width="3"/><rect x="53.5" y="32.5" width="23.5" height="9" rx="3.2" fill="none" stroke="#1b4449" stroke-width="3"/><path d="M52,46 Q62,43.5 71,47.5" fill="none" stroke="#1b4449" stroke-width="2.6"/><path d="M50,10 L52,12" fill="none" stroke="#1b4449" stroke-width="2"/><rect x="0" y="0" width="90" height="71" fill="#b8a070" opacity="0.35" filter="url(#semNoise)"/></g></g><rect x="23.7" y="292.6" width="32.3" height="14.9" fill="#e6e5df" opacity="0.88"/><text transform="translate(26.77,304.00) scale(0.963,1)" font-family='"Liberation Sans", Arial, Helvetica, sans-serif' font-size="11.71" fill="#222">48 °C</text><rect x="80" y="342.90000000000003" width="33.5" height="20.7" fill="#e9e8e3" opacity="0.88"/><text transform="translate(85.82,353.80) scale(0.945,1)" font-family='"Liberation Sans", Arial, Helvetica, sans-serif' font-size="11.01" fill="#222">1mm</text><line x1="91.2" y1="358.20000000000005" x2="101.7" y2="358.20000000000005" stroke="#111" stroke-width="1.2"/><text transform="translate(122.70,207.00) scale(1.023,1)" font-family='"Liberation Sans", Arial, Helvetica, sans-serif' font-size="12.83" font-weight="bold" fill="#111">f</text><rect x="122.3" y="212.5" width="187.89999999999998" height="150.0" fill="url(#fBg)"/><path d="M123.19,354.28 L123.64,352.23 L124.08,350.21 L124.53,348.23 L124.98,346.28 L125.42,344.38 L125.87,342.52 L126.31,340.71 L126.76,338.94 L127.21,337.23 L127.65,335.57 L128.10,333.96 L128.55,332.42 L128.99,330.93 L129.44,329.51 L129.88,328.16 L130.33,326.87 L130.78,325.66 L131.22,324.50 L131.67,323.37 L132.12,322.27 L132.56,321.19 L133.01,320.15 L133.46,319.14 L133.90,318.16 L134.35,317.21 L134.79,316.29 L135.24,315.41 L135.69,314.56 L136.13,313.74 L136.58,312.96 L137.03,312.21 L137.47,311.50 L137.92,310.82 L138.37,310.18 L138.81,309.58 L139.26,308.99 L139.70,308.40 L140.15,307.84 L140.60,307.32 L141.04,306.84 L141.49,306.41 L141.94,306.05 L142.38,305.77 L142.83,305.57 L143.27,305.37 L143.72,305.20 L144.17,305.04 L144.61,304.92 L145.06,304.83 L145.51,304.79 L145.95,304.80 L146.40,304.85 L146.85,304.93 L147.29,305.05 L147.74,305.19 L148.18,305.35 L148.63,305.54 L149.08,305.74 L149.52,305.96 L149.97,306.20 L150.42,306.44 L150.86,306.69 L151.31,306.95 L151.75,307.21 L152.20,307.46 L152.65,307.71 L153.09,307.99 L153.54,308.30 L153.99,308.64 L154.43,308.99 L154.88,309.38 L155.33,309.79 L155.77,310.20 L156.22,310.59 L156.66,311.05 L157.11,311.55 L157.56,312.03 L158.00,312.48 L158.45,312.85 L158.90,313.27 L159.34,313.75 L159.79,314.26 L160.24,314.62 L160.68,314.88 L161.13,315.23 L161.57,315.65 L162.02,316.04 L162.47,316.34 L162.91,316.64 L163.36,317.02 L163.81,317.43 L164.25,317.88 L164.70,318.18 L165.14,318.73 L165.59,319.08 L166.04,319.54 L166.48,319.82 L166.93,320.13 L167.38,320.55 L167.82,320.67 L168.27,321.06 L168.72,321.28 L169.16,321.58 L169.61,321.87 L170.05,322.36 L170.50,322.97 L170.95,323.16 L171.39,323.42 L171.84,323.67 L172.29,324.16 L172.73,324.50 L173.18,324.68 L173.62,325.01 L174.07,325.32 L174.52,325.80 L174.96,326.07 L175.41,326.50 L175.86,326.67 L176.30,326.88 L176.75,327.23 L177.20,327.85 L177.64,328.24 L178.09,328.12 L178.53,328.27 L178.98,328.74 L179.43,329.21 L179.87,329.46 L180.32,329.66 L180.77,330.01 L181.21,330.14 L181.66,330.40 L182.10,330.60 L182.55,330.93 L183.00,331.24 L183.44,331.56 L183.89,331.90 L184.34,332.07 L184.78,332.41 L185.23,332.68 L185.68,332.79 L186.12,332.94 L186.57,333.09 L187.01,333.44 L187.46,333.72 L187.91,333.99 L188.35,334.24 L188.80,334.41 L189.25,334.74 L189.69,334.94 L190.14,335.26 L190.59,335.48 L191.03,335.88 L191.48,336.09 L191.92,336.04 L192.37,336.29 L192.82,336.45 L193.26,337.04 L193.71,337.13 L194.16,337.26 L194.60,337.27 L195.05,337.52 L195.49,337.78 L195.94,337.87 L196.39,337.93 L196.83,337.93 L197.28,338.15 L197.73,338.45 L198.17,338.82 L198.62,339.00 L199.07,339.09 L199.51,339.22 L199.96,339.34 L200.40,339.65 L200.85,339.70 L201.30,339.91 L201.74,339.99 L202.19,340.14 L202.64,340.08 L203.08,340.04 L203.53,340.21 L203.97,340.56 L204.42,340.44 L204.87,340.49 L205.31,340.62 L205.76,341.10 L206.21,341.29 L206.65,341.45 L207.10,341.46 L207.55,341.62 L207.99,341.45 L208.44,341.48 L208.88,341.80 L209.33,342.02 L209.78,342.38 L210.22,342.10 L210.67,342.18 L211.12,342.06 L211.56,342.37 L212.01,342.30 L212.45,342.24 L212.90,342.33 L213.35,342.56 L213.79,342.92 L214.24,342.90 L214.69,343.15 L215.13,342.98 L215.58,343.16 L216.03,343.14 L216.47,343.36 L216.92,343.41 L217.36,343.48 L217.81,343.66 L218.26,343.69 L218.70,343.86 L219.15,343.92 L219.60,344.00 L220.04,343.99 L220.49,344.01 L220.94,344.09 L221.38,344.06 L221.83,344.17 L222.27,344.23 L222.72,344.44 L223.17,344.53 L223.61,344.71 L224.06,344.67 L224.51,344.80 L224.95,344.82 L225.40,344.90 L225.84,344.81 L226.29,344.85 L226.74,345.15 L227.18,345.22 L227.63,345.21 L228.08,345.22 L228.52,345.25 L228.97,345.41 L229.42,345.44 L229.86,345.57 L230.31,345.57 L230.75,345.50 L231.20,345.73 L231.65,345.58 L232.09,345.72 L232.54,345.76 L232.99,345.94 L233.43,345.96 L233.88,345.83 L234.32,345.97 L234.77,345.99 L235.22,346.04 L235.66,346.12 L236.11,346.09 L236.56,346.20 L237.00,346.25 L237.45,346.35 L237.90,346.29 L238.34,346.26 L238.79,346.39 L239.23,346.40 L239.68,346.58 L240.13,346.62 L240.57,346.71 L241.02,346.69 L241.47,346.61 L241.91,346.65 L242.36,346.45 L242.81,346.57 L243.25,346.65 L243.70,346.73 L244.14,346.90 L244.59,346.55 L245.04,346.68 L245.48,346.53 L245.93,346.77 L246.38,346.73 L246.82,346.85 L247.27,346.90 L247.71,346.83 L248.16,346.71 L248.61,346.82 L249.05,346.88 L249.50,346.94 L249.95,346.89 L250.39,346.94 L250.84,346.93 L251.29,347.13 L251.73,347.19 L252.18,347.23 L252.62,347.00 L253.07,346.98 L253.52,346.83 L253.96,346.94 L254.41,346.94 L254.86,347.11 L255.30,347.07 L255.75,346.94 L256.19,346.90 L256.64,347.04 L257.09,347.25 L257.53,347.28 L257.98,347.31 L258.43,347.29 L258.87,347.29 L259.32,347.09 L259.77,347.12 L260.21,347.07 L260.66,347.13 L261.10,347.17 L261.55,347.08 L262.00,347.25 L262.44,347.31 L262.89,347.51 L263.34,347.47 L263.78,347.54 L264.23,347.52 L264.67,347.69 L265.12,347.42 L265.57,347.44 L266.01,347.35 L266.46,347.60 L266.91,347.64 L267.35,347.61 L267.80,347.64 L268.25,347.70 L268.69,347.71 L269.14,347.68 L269.58,347.50 L270.03,347.38 L270.48,347.34 L270.92,347.40 L271.37,347.66 L271.82,347.61 L272.26,347.68 L272.71,347.51 L273.16,347.43 L273.60,347.66 L274.05,347.70 L274.49,347.98 L274.94,347.71 L275.39,347.88 L275.83,347.83 L276.28,347.88 L276.73,347.70 L277.17,347.66 L277.62,347.77 L278.06,347.90 L278.51,347.83 L278.96,347.76 L279.40,347.89 L279.85,347.90 L280.30,347.87 L280.74,347.63 L281.19,347.76 L281.64,347.73 L282.08,347.93 L282.53,347.86 L282.97,348.00 L283.42,347.84 L283.87,347.81 L284.31,347.84 L284.76,347.92 L285.21,348.03 L285.65,347.85 L286.10,347.79 L286.54,347.92 L286.99,348.01 L287.44,348.01 L287.88,347.69 L288.33,347.92 L288.78,348.05 L289.22,348.14 L289.67,348.12 L290.12,348.20 L290.56,348.29 L291.01,348.06 L291.45,348.02 L291.90,348.03 L292.35,348.13 L292.79,347.92 L293.24,347.99 L293.69,347.91 L294.13,348.16 L294.58,348.19 L295.02,348.30 L295.47,348.11 L295.92,348.04 L296.36,348.12 L296.81,348.17 L297.26,348.16 L297.70,348.11 L298.15,348.21 L298.60,348.32 L299.04,348.48 L299.49,348.45 L299.93,348.41 L300.38,348.34 L300.83,348.29 L301.27,348.46 L301.72,348.43 L302.17,348.56 L302.61,348.24 L303.06,348.35 L303.51,348.25 L303.95,348.36 L304.40,348.18 L304.84,348.12 L305.29,348.32 L305.74,348.59 L306.18,348.64 L306.63,348.67 L307.08,348.48 L307.52,348.68 L307.97,348.46 L308.41,348.35 L308.86,348.31 L309.31,348.33 L309.75,348.41 L310.20,348.34" stroke="#8fd4e6" stroke-width="1" fill="none"/><path d="M123.19,349.34 L123.64,346.40 L124.08,343.49 L124.53,340.65 L124.98,337.89 L125.42,335.20 L125.87,332.62 L126.31,330.16 L126.76,327.82 L127.21,325.62 L127.65,323.57 L128.10,321.69 L128.55,319.99 L128.99,318.44 L129.44,316.92 L129.88,315.43 L130.33,313.98 L130.78,312.57 L131.22,311.20 L131.67,309.88 L132.12,308.62 L132.56,307.42 L133.01,306.27 L133.46,305.20 L133.90,304.19 L134.35,303.27 L134.79,302.42 L135.24,301.65 L135.69,300.98 L136.13,300.40 L136.58,299.91 L137.03,299.50 L137.47,299.11 L137.92,298.74 L138.37,298.39 L138.81,298.07 L139.26,297.76 L139.70,297.47 L140.15,297.20 L140.60,296.96 L141.04,296.73 L141.49,296.52 L141.94,296.33 L142.38,296.16 L142.83,296.01 L143.27,295.87 L143.72,295.75 L144.17,295.64 L144.61,295.52 L145.06,295.41 L145.51,295.31 L145.95,295.22 L146.40,295.13 L146.85,295.06 L147.29,295.00 L147.74,294.96 L148.18,294.93 L148.63,294.93 L149.08,294.96 L149.52,295.04 L149.97,295.16 L150.42,295.31 L150.86,295.50 L151.31,295.71 L151.75,295.94 L152.20,296.18 L152.65,296.44 L153.09,296.69 L153.54,296.95 L153.99,297.17 L154.43,297.41 L154.88,297.68 L155.33,297.99 L155.77,298.29 L156.22,298.62 L156.66,299.03 L157.11,299.26 L157.56,299.49 L158.00,299.73 L158.45,300.24 L158.90,300.69 L159.34,300.99 L159.79,301.33 L160.24,301.68 L160.68,302.14 L161.13,302.60 L161.57,302.83 L162.02,303.01 L162.47,303.36 L162.91,303.52 L163.36,304.17 L163.81,304.36 L164.25,305.14 L164.70,305.43 L165.14,305.83 L165.59,306.12 L166.04,306.60 L166.48,307.14 L166.93,307.60 L167.38,308.16 L167.82,308.42 L168.27,308.51 L168.72,308.31 L169.16,308.45 L169.61,308.34 L170.05,308.81 L170.50,309.39 L170.95,309.85 L171.39,310.49 L171.84,310.50 L172.29,311.46 L172.73,311.47 L173.18,312.46 L173.62,312.36 L174.07,312.80 L174.52,312.89 L174.96,313.03 L175.41,313.14 L175.86,313.22 L176.30,314.08 L176.75,314.56 L177.20,314.91 L177.64,314.88 L178.09,314.99 L178.53,315.40 L178.98,315.97 L179.43,316.56 L179.87,317.00 L180.32,317.28 L180.77,317.46 L181.21,317.28 L181.66,317.13 L182.10,317.57 L182.55,317.88 L183.00,318.55 L183.44,318.18 L183.89,318.58 L184.34,318.64 L184.78,319.59 L185.23,320.03 L185.68,320.37 L186.12,320.51 L186.57,320.51 L187.01,321.17 L187.46,321.20 L187.91,321.74 L188.35,321.27 L188.80,321.74 L189.25,321.55 L189.69,322.50 L190.14,322.59 L190.59,323.29 L191.03,323.33 L191.48,323.67 L191.92,323.79 L192.37,323.86 L192.82,323.94 L193.26,323.96 L193.71,324.27 L194.16,324.98 L194.60,325.54 L195.05,325.79 L195.49,326.18 L195.94,326.06 L196.39,326.28 L196.83,326.08 L197.28,326.25 L197.73,326.26 L198.17,326.36 L198.62,327.00 L199.07,327.28 L199.51,327.45 L199.96,327.62 L200.40,327.65 L200.85,327.80 L201.30,328.24 L201.74,328.63 L202.19,329.22 L202.64,328.71 L203.08,328.74 L203.53,328.89 L203.97,329.53 L204.42,329.87 L204.87,329.86 L205.31,329.50 L205.76,329.53 L206.21,329.72 L206.65,330.10 L207.10,330.90 L207.55,330.94 L207.99,331.04 L208.44,330.80 L208.88,331.19 L209.33,331.43 L209.78,331.11 L210.22,331.07 L210.67,331.60 L211.12,331.88 L211.56,332.50 L212.01,332.29 L212.45,332.89 L212.90,332.41 L213.35,332.86 L213.79,332.58 L214.24,332.86 L214.69,333.20 L215.13,334.08 L215.58,334.35 L216.03,333.81 L216.47,333.47 L216.92,333.51 L217.36,333.98 L217.81,333.96 L218.26,334.01 L218.70,334.01 L219.15,334.51 L219.60,334.44 L220.04,334.31 L220.49,334.49 L220.94,334.35 L221.38,334.60 L221.83,334.53 L222.27,335.58 L222.72,335.70 L223.17,335.57 L223.61,335.38 L224.06,336.03 L224.51,336.01 L224.95,336.11 L225.40,335.91 L225.84,335.63 L226.29,335.12 L226.74,334.90 L227.18,335.73 L227.63,336.16 L228.08,336.98 L228.52,336.94 L228.97,337.35 L229.42,337.22 L229.86,337.68 L230.31,337.48 L230.75,337.26 L231.20,336.95 L231.65,336.96 L232.09,337.25 L232.54,337.64 L232.99,338.30 L233.43,338.26 L233.88,337.89 L234.32,337.59 L234.77,337.44 L235.22,337.94 L235.66,338.08 L236.11,338.45 L236.56,338.53 L237.00,338.06 L237.45,337.75 L237.90,337.70 L238.34,338.34 L238.79,338.59 L239.23,338.78 L239.68,338.56 L240.13,338.88 L240.57,338.68 L241.02,339.04 L241.47,338.90 L241.91,339.16 L242.36,339.32 L242.81,339.46 L243.25,339.35 L243.70,339.10 L244.14,338.90 L244.59,338.44 L245.04,338.23 L245.48,338.33 L245.93,338.54 L246.38,338.91 L246.82,338.56 L247.27,338.63 L247.71,338.81 L248.16,338.99 L248.61,338.96 L249.05,339.29 L249.50,339.65 L249.95,339.97 L250.39,339.82 L250.84,339.92 L251.29,340.05 L251.73,339.53 L252.18,339.25 L252.62,338.48 L253.07,338.70 L253.52,338.54 L253.96,339.13 L254.41,339.01 L254.86,339.55 L255.30,340.02 L255.75,340.27 L256.19,339.87 L256.64,339.11 L257.09,338.82 L257.53,338.90 L257.98,339.47 L258.43,339.28 L258.87,339.12 L259.32,339.07 L259.77,339.45 L260.21,340.00 L260.66,339.57 L261.10,339.49 L261.55,339.32 L262.00,339.58 L262.44,339.59 L262.89,339.69 L263.34,340.08 L263.78,340.49 L264.23,340.82 L264.67,340.46 L265.12,339.70 L265.57,339.72 L266.01,339.81 L266.46,340.24 L266.91,340.11 L267.35,340.12 L267.80,340.48 L268.25,340.01 L268.69,340.22 L269.14,339.97 L269.58,340.11 L270.03,340.09 L270.48,340.54 L270.92,340.83 L271.37,340.59 L271.82,340.23 L272.26,340.08 L272.71,340.51 L273.16,340.48 L273.60,340.39 L274.05,340.16 L274.49,339.78 L274.94,340.00 L275.39,340.27 L275.83,341.16 L276.28,340.85 L276.73,340.63 L277.17,339.94 L277.62,340.14 L278.06,339.66 L278.51,339.59 L278.96,339.84 L279.40,340.26 L279.85,340.33 L280.30,340.62 L280.74,340.25 L281.19,340.22 L281.64,339.47 L282.08,340.05 L282.53,340.38 L282.97,341.17 L283.42,341.11 L283.87,341.48 L284.31,341.05 L284.76,341.29 L285.21,340.98 L285.65,340.55 L286.10,340.92 L286.54,340.67 L286.99,342.07 L287.44,342.49 L287.88,343.02 L288.33,342.17 L288.78,341.00 L289.22,341.76 L289.67,341.83 L290.12,342.03 L290.56,340.64 L291.01,340.69 L291.45,340.51 L291.90,341.69 L292.35,341.78 L292.79,342.34 L293.24,341.49 L293.69,341.97 L294.13,342.24 L294.58,342.36 L295.02,340.84 L295.47,340.17 L295.92,340.36 L296.36,341.65 L296.81,341.28 L297.26,341.18 L297.70,339.95 L298.15,340.45 L298.60,341.42 L299.04,342.93 L299.49,343.85 L299.93,344.12 L300.38,342.99 L300.83,341.87 L301.27,341.91 L301.72,341.62 L302.17,342.07 L302.61,341.94 L303.06,342.94 L303.51,343.22 L303.95,343.16 L304.40,344.79 L304.84,344.78 L305.29,344.13 L305.74,344.63 L306.18,344.35 L306.63,344.20 L307.08,342.85 L307.52,343.21 L307.97,343.89 L308.41,344.21 L308.86,344.59 L309.31,343.57 L309.75,344.05 L310.20,343.88" stroke="#45bdd8" stroke-width="1" fill="none"/><path d="M123.19,311.67 L123.64,310.94 L124.08,310.23 L124.53,309.52 L124.98,308.83 L125.42,308.15 L125.87,307.49 L126.31,306.84 L126.76,306.21 L127.21,305.60 L127.65,305.00 L128.10,304.43 L128.55,303.88 L128.99,303.35 L129.44,302.83 L129.88,302.32 L130.33,301.82 L130.78,301.33 L131.22,300.85 L131.67,300.38 L132.12,299.92 L132.56,299.47 L133.01,299.03 L133.46,298.59 L133.90,298.17 L134.35,297.76 L134.79,297.36 L135.24,296.97 L135.69,296.60 L136.13,296.23 L136.58,295.87 L137.03,295.52 L137.47,295.16 L137.92,294.80 L138.37,294.45 L138.81,294.10 L139.26,293.76 L139.70,293.43 L140.15,293.11 L140.60,292.80 L141.04,292.51 L141.49,292.24 L141.94,291.99 L142.38,291.77 L142.83,291.57 L143.27,291.40 L143.72,291.25 L144.17,291.11 L144.61,290.97 L145.06,290.83 L145.51,290.70 L145.95,290.57 L146.40,290.45 L146.85,290.34 L147.29,290.24 L147.74,290.14 L148.18,290.06 L148.63,289.99 L149.08,289.93 L149.52,289.89 L149.97,289.86 L150.42,289.84 L150.86,289.84 L151.31,289.85 L151.75,289.86 L152.20,289.88 L152.65,289.91 L153.09,289.94 L153.54,289.98 L153.99,290.04 L154.43,290.07 L154.88,290.05 L155.33,290.15 L155.77,290.16 L156.22,290.36 L156.66,290.26 L157.11,290.35 L157.56,290.35 L158.00,290.71 L158.45,290.61 L158.90,290.56 L159.34,290.32 L159.79,290.44 L160.24,290.55 L160.68,290.82 L161.13,291.22 L161.57,291.55 L162.02,291.37 L162.47,291.66 L162.91,291.82 L163.36,292.37 L163.81,292.24 L164.25,292.21 L164.70,292.64 L165.14,293.35 L165.59,293.75 L166.04,293.37 L166.48,292.93 L166.93,293.09 L167.38,293.72 L167.82,294.05 L168.27,294.37 L168.72,294.23 L169.16,294.69 L169.61,294.72 L170.05,295.09 L170.50,294.82 L170.95,294.88 L171.39,294.23 L171.84,294.05 L172.29,293.77 L172.73,295.10 L173.18,295.67 L173.62,296.31 L174.07,295.66 L174.52,296.25 L174.96,295.82 L175.41,295.72 L175.86,295.51 L176.30,296.15 L176.75,296.71 L177.20,296.40 L177.64,296.00 L178.09,295.27 L178.53,295.39 L178.98,295.41 L179.43,295.98 L179.87,295.50 L180.32,295.57 L180.77,295.30 L181.21,296.14 L181.66,296.45 L182.10,297.11 L182.55,296.47 L183.00,296.30 L183.44,296.22 L183.89,296.82 L184.34,296.93 L184.78,297.10 L185.23,297.30 L185.68,297.36 L186.12,296.56 L186.57,296.43 L187.01,296.78 L187.46,297.84 L187.91,298.20 L188.35,297.97 L188.80,297.48 L189.25,297.17 L189.69,297.28 L190.14,297.55 L190.59,297.57 L191.03,298.14 L191.48,298.36 L191.92,298.43 L192.37,298.28 L192.82,298.34 L193.26,298.66 L193.71,298.59 L194.16,298.28 L194.60,298.22 L195.05,298.23 L195.49,298.29 L195.94,298.05 L196.39,297.60 L196.83,298.44 L197.28,298.43 L197.73,299.08 L198.17,298.51 L198.62,298.56 L199.07,298.18 L199.51,297.97 L199.96,298.20 L200.40,298.09 L200.85,298.50 L201.30,298.61 L201.74,298.87 L202.19,298.98 L202.64,298.39 L203.08,298.36 L203.53,297.65 L203.97,298.29 L204.42,298.71 L204.87,299.29 L205.31,299.11 L205.76,299.20 L206.21,299.18 L206.65,299.41 L207.10,298.84 L207.55,299.16 L207.99,298.90 L208.44,299.55 L208.88,299.66 L209.33,300.17 L209.78,300.35 L210.22,300.07 L210.67,299.62 L211.12,299.28 L211.56,299.18 L212.01,299.04 L212.45,299.04 L212.90,299.19 L213.35,299.74 L213.79,300.28 L214.24,300.15 L214.69,300.58 L215.13,299.99 L215.58,300.23 L216.03,299.46 L216.47,299.69 L216.92,299.94 L217.36,300.17 L217.81,300.34 L218.26,300.19 L218.70,300.30 L219.15,300.21 L219.60,300.24 L220.04,300.50 L220.49,300.55 L220.94,301.11 L221.38,300.95 L221.83,301.25 L222.27,300.39 L222.72,300.02 L223.17,300.26 L223.61,300.55 L224.06,300.96 L224.51,300.74 L224.95,300.66 L225.40,300.78 L225.84,301.00 L226.29,301.25 L226.74,301.19 L227.18,300.70 L227.63,300.99 L228.08,300.81 L228.52,300.66 L228.97,300.66 L229.42,301.04 L229.86,301.28 L230.31,301.15 L230.75,300.52 L231.20,300.46 L231.65,300.61 L232.09,301.32 L232.54,301.42 L232.99,300.54 L233.43,300.39 L233.88,300.36 L234.32,300.87 L234.77,300.86 L235.22,300.29 L235.66,300.59 L236.11,300.40 L236.56,301.00 L237.00,300.70 L237.45,301.24 L237.90,300.82 L238.34,301.04 L238.79,300.72 L239.23,301.49 L239.68,301.68 L240.13,301.55 L240.57,301.02 L241.02,300.60 L241.47,300.42 L241.91,300.51 L242.36,300.74 L242.81,300.86 L243.25,300.91 L243.70,300.96 L244.14,301.00 L244.59,300.80 L245.04,300.70 L245.48,301.05 L245.93,301.24 L246.38,300.72 L246.82,300.67 L247.27,300.94 L247.71,301.62 L248.16,301.15 L248.61,301.74 L249.05,301.58 L249.50,301.60 L249.95,301.25 L250.39,300.86 L250.84,301.08 L251.29,300.98 L251.73,301.43 L252.18,302.17 L252.62,302.17 L253.07,301.58 L253.52,301.34 L253.96,300.44 L254.41,301.13 L254.86,300.42 L255.30,301.08 L255.75,301.88 L256.19,302.47 L256.64,302.41 L257.09,301.98 L257.53,302.27 L257.98,302.19 L258.43,301.99 L258.87,302.11 L259.32,302.52 L259.77,301.90 L260.21,301.39 L260.66,300.71 L261.10,300.42 L261.55,300.18 L262.00,301.02 L262.44,302.19 L262.89,302.20 L263.34,301.33 L263.78,300.64 L264.23,300.37 L264.67,300.92 L265.12,300.89 L265.57,301.32 L266.01,301.24 L266.46,301.92 L266.91,302.37 L267.35,302.41 L267.80,302.30 L268.25,301.99 L268.69,301.45 L269.14,300.98 L269.58,299.24 L270.03,299.08 L270.48,299.27 L270.92,300.17 L271.37,300.38 L271.82,300.36 L272.26,300.17 L272.71,300.63 L273.16,301.62 L273.60,301.72 L274.05,301.61 L274.49,299.58 L274.94,300.17 L275.39,300.38 L275.83,300.32 L276.28,300.48 L276.73,299.84 L277.17,299.85 L277.62,299.31 L278.06,299.41 L278.51,299.98 L278.96,299.65 L279.40,299.96 L279.85,299.71 L280.30,299.83 L280.74,298.32 L281.19,298.80 L281.64,299.61 L282.08,300.54 L282.53,300.70 L282.97,300.20 L283.42,300.68 L283.87,299.96 L284.31,300.64 L284.76,300.92 L285.21,303.27 L285.65,303.57 L286.10,302.71 L286.54,301.63 L286.99,301.55 L287.44,303.33 L287.88,302.45 L288.33,301.73 L288.78,301.52 L289.22,301.23 L289.67,300.92 L290.12,299.27 L290.56,299.96 L291.01,298.65 L291.45,298.72 L291.90,298.20 L292.35,299.89 L292.79,300.55 L293.24,300.14 L293.69,300.45 L294.13,300.00 L294.58,300.93 L295.02,300.31 L295.47,301.26 L295.92,302.50 L296.36,306.24 L296.81,307.85 L297.26,308.25 L297.70,307.36 L298.15,307.63 L298.60,308.66 L299.04,308.71 L299.49,309.38 L299.93,307.01 L300.38,305.78 L300.83,304.74 L301.27,306.46 L301.72,306.04 L302.17,303.67 L302.61,301.55 L303.06,301.72 L303.51,301.61 L303.95,300.67 L304.40,299.09 L304.84,299.57 L305.29,299.74 L305.74,300.06 L306.18,300.02 L306.63,301.66 L307.08,300.78 L307.52,301.22 L307.97,298.73 L308.41,301.81 L308.86,301.37 L309.31,302.27 L309.75,300.78 L310.20,301.39" stroke="#25798b" stroke-width="1.1" fill="none"/><path d="M123.19,286.25 L123.64,285.73 L124.08,285.22 L124.53,284.70 L124.98,284.19 L125.42,283.68 L125.87,283.18 L126.31,282.67 L126.76,282.18 L127.21,281.68 L127.65,281.19 L128.10,280.70 L128.55,280.21 L128.99,279.73 L129.44,279.25 L129.88,278.78 L130.33,278.30 L130.78,277.84 L131.22,277.37 L131.67,276.90 L132.12,276.43 L132.56,275.97 L133.01,275.50 L133.46,275.03 L133.90,274.56 L134.35,274.10 L134.79,273.63 L135.24,273.17 L135.69,272.71 L136.13,272.25 L136.58,271.78 L137.03,271.32 L137.47,270.85 L137.92,270.39 L138.37,269.92 L138.81,269.44 L139.26,268.97 L139.70,268.49 L140.15,268.00 L140.60,267.48 L141.04,266.93 L141.49,266.37 L141.94,265.81 L142.38,265.25 L142.83,264.72 L143.27,264.22 L143.72,263.75 L144.17,263.34 L144.61,263.00 L145.06,262.70 L145.51,262.39 L145.95,262.10 L146.40,261.81 L146.85,261.56 L147.29,261.34 L147.74,261.17 L148.18,261.05 L148.63,260.99 L149.08,260.99 L149.52,261.01 L149.97,261.04 L150.42,261.07 L150.86,261.12 L151.31,261.17 L151.75,261.23 L152.20,261.29 L152.65,261.35 L153.09,261.41 L153.54,261.47 L153.99,261.54 L154.43,261.61 L154.88,261.70 L155.33,261.79 L155.77,261.89 L156.22,261.96 L156.66,262.10 L157.11,262.21 L157.56,262.37 L158.00,262.50 L158.45,262.63 L158.90,262.69 L159.34,262.72 L159.79,262.70 L160.24,262.80 L160.68,262.87 L161.13,263.04 L161.57,263.09 L162.02,263.28 L162.47,263.42 L162.91,263.56 L163.36,263.69 L163.81,263.77 L164.25,264.06 L164.70,264.34 L165.14,264.64 L165.59,264.67 L166.04,264.73 L166.48,264.76 L166.93,264.81 L167.38,264.93 L167.82,265.01 L168.27,264.98 L168.72,264.96 L169.16,264.97 L169.61,265.01 L170.05,265.12 L170.50,265.14 L170.95,265.29 L171.39,265.20 L171.84,265.24 L172.29,265.16 L172.73,265.22 L173.18,265.24 L173.62,265.28 L174.07,265.25 L174.52,265.25 L174.96,265.29 L175.41,265.34 L175.86,265.45 L176.30,265.30 L176.75,265.34 L177.20,265.23 L177.64,265.19 L178.09,265.05 L178.53,265.04 L178.98,265.12 L179.43,265.18 L179.87,265.07 L180.32,265.10 L180.77,265.14 L181.21,265.16 L181.66,265.11 L182.10,265.06 L182.55,265.07 L183.00,265.13 L183.44,265.21 L183.89,265.38 L184.34,265.30 L184.78,265.14 L185.23,265.02 L185.68,264.90 L186.12,264.89 L186.57,264.79 L187.01,264.84 L187.46,264.86 L187.91,264.87 L188.35,264.85 L188.80,264.82 L189.25,264.70 L189.69,264.60 L190.14,264.60 L190.59,264.55 L191.03,264.60 L191.48,264.53 L191.92,264.51 L192.37,264.43 L192.82,264.38 L193.26,264.35 L193.71,264.34 L194.16,264.33 L194.60,264.31 L195.05,264.18 L195.49,264.10 L195.94,263.93 L196.39,263.94 L196.83,264.06 L197.28,264.16 L197.73,264.03 L198.17,263.81 L198.62,263.77 L199.07,263.88 L199.51,263.75 L199.96,263.62 L200.40,263.49 L200.85,263.50 L201.30,263.43 L201.74,263.37 L202.19,263.43 L202.64,263.42 L203.08,263.40 L203.53,263.29 L203.97,263.23 L204.42,263.19 L204.87,263.30 L205.31,263.19 L205.76,263.08 L206.21,262.85 L206.65,262.90 L207.10,262.89 L207.55,262.89 L207.99,262.79 L208.44,262.75 L208.88,262.63 L209.33,262.64 L209.78,262.60 L210.22,262.44 L210.67,262.23 L211.12,262.09 L211.56,262.09 L212.01,262.15 L212.45,262.06 L212.90,261.89 L213.35,261.86 L213.79,261.76 L214.24,261.91 L214.69,261.75 L215.13,261.72 L215.58,261.60 L216.03,261.59 L216.47,261.53 L216.92,261.31 L217.36,261.17 L217.81,261.02 L218.26,261.04 L218.70,260.83 L219.15,260.82 L219.60,260.68 L220.04,260.66 L220.49,260.57 L220.94,260.39 L221.38,260.22 L221.83,260.12 L222.27,260.16 L222.72,260.28 L223.17,260.27 L223.61,260.18 L224.06,260.04 L224.51,259.91 L224.95,259.83 L225.40,259.71 L225.84,259.71 L226.29,259.69 L226.74,259.57 L227.18,259.36 L227.63,259.25 L228.08,259.16 L228.52,259.17 L228.97,259.07 L229.42,259.18 L229.86,259.01 L230.31,258.92 L230.75,258.67 L231.20,258.60 L231.65,258.52 L232.09,258.50 L232.54,258.39 L232.99,258.33 L233.43,258.28 L233.88,258.27 L234.32,258.14 L234.77,258.01 L235.22,257.83 L235.66,257.81 L236.11,257.72 L236.56,257.80 L237.00,257.69 L237.45,257.69 L237.90,257.48 L238.34,257.41 L238.79,257.38 L239.23,257.38 L239.68,257.33 L240.13,257.25 L240.57,257.23 L241.02,257.24 L241.47,256.99 L241.91,256.90 L242.36,256.72 L242.81,256.89 L243.25,256.89 L243.70,256.89 L244.14,256.76 L244.59,256.59 L245.04,256.57 L245.48,256.46 L245.93,256.35 L246.38,256.28 L246.82,256.19 L247.27,256.28 L247.71,256.13 L248.16,256.10 L248.61,255.87 L249.05,255.87 L249.50,255.81 L249.95,255.79 L250.39,255.75 L250.84,255.70 L251.29,255.75 L251.73,255.65 L252.18,255.55 L252.62,255.39 L253.07,255.12 L253.52,255.02 L253.96,254.91 L254.41,255.01 L254.86,255.05 L255.30,255.05 L255.75,255.11 L256.19,254.93 L256.64,254.91 L257.09,254.77 L257.53,254.83 L257.98,254.67 L258.43,254.47 L258.87,254.39 L259.32,254.35 L259.77,254.36 L260.21,254.33 L260.66,254.28 L261.10,254.21 L261.55,254.18 L262.00,254.05 L262.44,254.08 L262.89,253.91 L263.34,253.97 L263.78,253.85 L264.23,253.84 L264.67,253.67 L265.12,253.62 L265.57,253.52 L266.01,253.40 L266.46,253.30 L266.91,253.22 L267.35,253.21 L267.80,253.13 L268.25,253.03 L268.69,253.04 L269.14,252.90 L269.58,252.85 L270.03,252.80 L270.48,252.69 L270.92,252.63 L271.37,252.52 L271.82,252.59 L272.26,252.55 L272.71,252.47 L273.16,252.33 L273.60,252.17 L274.05,252.17 L274.49,252.13 L274.94,252.06 L275.39,251.90 L275.83,251.78 L276.28,251.69 L276.73,251.61 L277.17,251.54 L277.62,251.56 L278.06,251.41 L278.51,251.30 L278.96,251.27 L279.40,251.27 L279.85,251.33 L280.30,251.15 L280.74,251.07 L281.19,250.94 L281.64,250.96 L282.08,251.03 L282.53,250.90 L282.97,250.81 L283.42,250.65 L283.87,250.58 L284.31,250.54 L284.76,250.48 L285.21,250.49 L285.65,250.45 L286.10,250.20 L286.54,250.09 L286.99,249.95 L287.44,249.97 L287.88,250.07 L288.33,249.97 L288.78,249.94 L289.22,249.73 L289.67,249.62 L290.12,249.67 L290.56,249.53 L291.01,249.42 L291.45,249.36 L291.90,249.36 L292.35,249.35 L292.79,249.13 L293.24,249.01 L293.69,248.90 L294.13,248.80 L294.58,248.76 L295.02,248.71 L295.47,248.71 L295.92,248.68 L296.36,248.73 L296.81,248.51 L297.26,248.31 L297.70,247.96 L298.15,248.03 L298.60,247.96 L299.04,247.97 L299.49,247.80 L299.93,247.66 L300.38,247.59 L300.83,247.53 L301.27,247.61 L301.72,247.59 L302.17,247.36 L302.61,247.08 L303.06,246.85 L303.51,246.90 L303.95,246.87 L304.40,246.91 L304.84,246.76 L305.29,246.66 L305.74,246.49 L306.18,246.31 L306.63,246.27 L307.08,246.16 L307.52,246.26 L307.97,246.05 L308.41,246.03 L308.86,245.86 L309.31,245.82 L309.75,245.60 L310.20,245.50" stroke="#2e6d7a" stroke-width="1" fill="none"/><rect x="122.3" y="212.5" width="187.89999999999998" height="150.0" fill="none" stroke="#333" stroke-width="1"/><line x1="130.9" y1="362.5" x2="130.9" y2="360.0" stroke="#333" stroke-width="0.8"/><line x1="175.7" y1="362.5" x2="175.7" y2="360.0" stroke="#333" stroke-width="0.8"/><line x1="220.6" y1="362.5" x2="220.6" y2="360.0" stroke="#333" stroke-width="0.8"/><line x1="265.4" y1="362.5" x2="265.4" y2="360.0" stroke="#333" stroke-width="0.8"/><line x1="310.2" y1="362.5" x2="310.2" y2="360.0" stroke="#333" stroke-width="0.8"/><text transform="translate(121.46,378.00) scale(1.024,1)" font-family='"Liberation Sans", Arial, Helvetica, sans-serif' font-size="13.14" fill="#222">500</text><text transform="translate(161.62,378.00) scale(0.997,1)" font-family='"Liberation Sans", Arial, Helvetica, sans-serif' font-size="13.14" fill="#222">1000</text><text transform="translate(206.11,378.00) scale(1.000,1)" font-family='"Liberation Sans", Arial, Helvetica, sans-serif' font-size="13.14" fill="#222">1500</text><text transform="translate(251.12,378.00) scale(1.031,1)" font-family='"Liberation Sans", Arial, Helvetica, sans-serif' font-size="13.14" fill="#222">2000</text><text transform="translate(294.60,378.00) scale(1.067,1)" font-family='"Liberation Sans", Arial, Helvetica, sans-serif' font-size="13.14" fill="#222">2500</text><line x1="153.3" y1="362.5" x2="153.3" y2="361.0" stroke="#333" stroke-width="0.8"/><line x1="198.1" y1="362.5" x2="198.1" y2="361.0" stroke="#333" stroke-width="0.8"/><line x1="243.0" y1="362.5" x2="243.0" y2="361.0" stroke="#333" stroke-width="0.8"/><line x1="287.8" y1="362.5" x2="287.8" y2="361.0" stroke="#333" stroke-width="0.8"/><line x1="307.7" y1="362.5" x2="310.2" y2="362.5" stroke="#333" stroke-width="0.8"/><line x1="308.7" y1="347.6" x2="310.2" y2="347.6" stroke="#333" stroke-width="0.8"/><line x1="307.7" y1="332.6" x2="310.2" y2="332.6" stroke="#333" stroke-width="0.8"/><line x1="308.7" y1="317.6" x2="310.2" y2="317.6" stroke="#333" stroke-width="0.8"/><line x1="307.7" y1="302.7" x2="310.2" y2="302.7" stroke="#333" stroke-width="0.8"/><line x1="308.7" y1="287.8" x2="310.2" y2="287.8" stroke="#333" stroke-width="0.8"/><line x1="307.7" y1="272.8" x2="310.2" y2="272.8" stroke="#333" stroke-width="0.8"/><line x1="308.7" y1="257.9" x2="310.2" y2="257.9" stroke="#333" stroke-width="0.8"/><line x1="307.7" y1="242.9" x2="310.2" y2="242.9" stroke="#333" stroke-width="0.8"/><line x1="308.7" y1="227.9" x2="310.2" y2="227.9" stroke="#333" stroke-width="0.8"/><line x1="307.7" y1="213.0" x2="310.2" y2="213.0" stroke="#333" stroke-width="0.8"/><text transform="translate(312.78,217.80) scale(1.110,1)" font-family='"Liberation Sans", Arial, Helvetica, sans-serif' font-size="12.29" fill="#222">100</text><text transform="translate(313.19,247.70) scale(1.098,1)" font-family='"Liberation Sans", Arial, Helvetica, sans-serif' font-size="12.29" fill="#222">80</text><text transform="translate(313.12,277.60) scale(1.104,1)" font-family='"Liberation Sans", Arial, Helvetica, sans-serif' font-size="12.29" fill="#222">60</text><text transform="translate(313.54,307.50) scale(1.072,1)" font-family='"Liberation Sans", Arial, Helvetica, sans-serif' font-size="12.29" fill="#222">40</text><text transform="translate(313.12,337.40) scale(1.104,1)" font-family='"Liberation Sans", Arial, Helvetica, sans-serif' font-size="12.29" fill="#222">20</text><text transform="translate(312.98,367.50) scale(1.068,1)" font-family='"Liberation Sans", Arial, Helvetica, sans-serif' font-size="12.29" fill="#222">0</text><text transform="translate(272.72,242.80) scale(1.083,1)" font-family='"Liberation Sans", Arial, Helvetica, sans-serif' font-size="10.71" fill="#222">22°C</text><text transform="translate(273.07,295.50) scale(1.069,1)" font-family='"Liberation Sans", Arial, Helvetica, sans-serif' font-size="10.71" fill="#222">43°C</text><text transform="translate(273.07,337.20) scale(1.069,1)" font-family='"Liberation Sans", Arial, Helvetica, sans-serif' font-size="10.71" fill="#222">45°C</text><text transform="translate(273.07,362.50) scale(1.069,1)" font-family='"Liberation Sans", Arial, Helvetica, sans-serif' font-size="10.71" fill="#222">48°C</text><path d="M136.34,229.74 L136.34,216.81 A1.51,1.51 0 0 1 139.36,216.81 L139.36,229.74 A3.96,3.96 0 1 1 136.34,229.74 Z" fill="#fff" stroke="#1f2f6a" stroke-width="0.72"/><rect x="136.91" y="224.4" width="1.87" height="9.0" fill="#2a5fc8"/><circle cx="137.85" cy="233.4" r="2.88" fill="#2a5fc8"/><text transform="translate(144.70,234.20) scale(1.024,1)" font-family='"Liberation Sans", Arial, Helvetica, sans-serif' font-size="11.01" fill="#222">Low</text><text transform="translate(169.20,234.20) scale(0.887,1)" font-family='"Liberation Serif", "DejaVu Serif", serif' font-size="11.52" font-weight="bold" font-style="italic" fill="#222">τ</text><path d="M136.19,352.14 L136.19,339.81 A1.51,1.51 0 0 1 139.21,339.81 L139.21,352.14 A3.96,3.96 0 1 1 136.19,352.14 Z" fill="#fff" stroke="#5a1f22" stroke-width="0.72"/><rect x="136.76" y="341.2" width="1.87" height="14.600000000000023" fill="#b8202a"/><circle cx="137.7" cy="355.8" r="2.88" fill="#b8202a"/><text transform="translate(144.67,356.50) scale(1.062,1)" font-family='"Liberation Sans", Arial, Helvetica, sans-serif' font-size="10.90" fill="#222">High</text><text transform="translate(171.48,356.50) scale(1.089,1)" font-family='"Liberation Serif", "DejaVu Serif", serif' font-size="10.00" font-weight="bold" font-style="italic" fill="#222">τ</text><text transform="translate(354.44,204.30) scale(1.150,1)" font-family='"Liberation Sans", Arial, Helvetica, sans-serif' font-size="12.22" font-weight="bold" fill="#111">g</text><rect x="365.8" y="212.4" width="20.3" height="150.70000000000002" fill="#c8ecf8"/><rect x="390.8" y="212.4" width="20.3" height="150.70000000000002" fill="#c8ecf8"/><rect x="415.7" y="212.4" width="20.3" height="150.70000000000002" fill="#c8ecf8"/><rect x="440.6" y="212.4" width="20.3" height="150.70000000000002" fill="#fbd5de"/><rect x="465.6" y="212.4" width="20.3" height="150.70000000000002" fill="#fbd5de"/><rect x="490.6" y="212.4" width="20.3" height="150.70000000000002" fill="#c8ecf8"/><rect x="515.5" y="212.4" width="20.3" height="150.70000000000002" fill="#c8ecf8"/><line x1="354.6" y1="293.2" x2="543.3" y2="293.2" stroke="#333" stroke-width="0.9"/><rect x="366.2" y="293.2" width="9.6" height="9.6" fill="#f0820f" stroke="#3a2a20" stroke-width="0.6"/><rect x="375.8" y="269.7" width="9.6" height="23.5" fill="#d62430" stroke="#3a2a20" stroke-width="0.6"/><rect x="391.1" y="293.2" width="9.6" height="17.6" fill="#f0820f" stroke="#3a2a20" stroke-width="0.6"/><rect x="400.8" y="278.0" width="9.6" height="15.2" fill="#d62430" stroke="#3a2a20" stroke-width="0.6"/><rect x="416.1" y="282.0" width="9.6" height="11.2" fill="#f0820f" stroke="#3a2a20" stroke-width="0.6"/><rect x="425.7" y="265.0" width="9.6" height="28.2" fill="#d62430" stroke="#3a2a20" stroke-width="0.6"/><rect x="441.0" y="246.5" width="9.6" height="46.7" fill="#f0820f" stroke="#3a2a20" stroke-width="0.6"/><rect x="450.6" y="241.3" width="9.6" height="51.9" fill="#d62430" stroke="#3a2a20" stroke-width="0.6"/><rect x="466.0" y="217.8" width="9.6" height="75.4" fill="#f0820f" stroke="#3a2a20" stroke-width="0.6"/><rect x="475.6" y="216.6" width="9.6" height="76.6" fill="#d62430" stroke="#3a2a20" stroke-width="0.6"/><rect x="490.9" y="293.2" width="9.6" height="58.1" fill="#f0820f" stroke="#3a2a20" stroke-width="0.6"/><rect x="515.9" y="278.0" width="9.6" height="15.2" fill="#f0820f" stroke="#3a2a20" stroke-width="0.6"/><rect x="525.5" y="263.0" width="9.6" height="30.2" fill="#d62430" stroke="#3a2a20" stroke-width="0.6"/><rect x="354.6" y="212.4" width="188.69999999999993" height="150.70000000000002" fill="none" stroke="#333" stroke-width="1"/><line x1="375.8" y1="363.1" x2="375.8" y2="360.6" stroke="#333" stroke-width="0.8"/><line x1="400.8" y1="363.1" x2="400.8" y2="360.6" stroke="#333" stroke-width="0.8"/><line x1="425.7" y1="363.1" x2="425.7" y2="360.6" stroke="#333" stroke-width="0.8"/><line x1="450.6" y1="363.1" x2="450.6" y2="360.6" stroke="#333" stroke-width="0.8"/><line x1="475.6" y1="363.1" x2="475.6" y2="360.6" stroke="#333" stroke-width="0.8"/><line x1="500.6" y1="363.1" x2="500.6" y2="360.6" stroke="#333" stroke-width="0.8"/><line x1="525.5" y1="363.1" x2="525.5" y2="360.6" stroke="#333" stroke-width="0.8"/><line x1="540.8" y1="358.0" x2="543.3" y2="358.0" stroke="#333" stroke-width="0.8"/><line x1="541.8" y1="347.2" x2="543.3" y2="347.2" stroke="#333" stroke-width="0.8"/><line x1="540.8" y1="336.4" x2="543.3" y2="336.4" stroke="#333" stroke-width="0.8"/><line x1="541.8" y1="325.6" x2="543.3" y2="325.6" stroke="#333" stroke-width="0.8"/><line x1="540.8" y1="314.8" x2="543.3" y2="314.8" stroke="#333" stroke-width="0.8"/><line x1="541.8" y1="304.0" x2="543.3" y2="304.0" stroke="#333" stroke-width="0.8"/><line x1="540.8" y1="293.2" x2="543.3" y2="293.2" stroke="#333" stroke-width="0.8"/><line x1="541.8" y1="282.4" x2="543.3" y2="282.4" stroke="#333" stroke-width="0.8"/><line x1="540.8" y1="271.6" x2="543.3" y2="271.6" stroke="#333" stroke-width="0.8"/><line x1="541.8" y1="260.8" x2="543.3" y2="260.8" stroke="#333" stroke-width="0.8"/><line x1="540.8" y1="250.0" x2="543.3" y2="250.0" stroke="#333" stroke-width="0.8"/><line x1="541.8" y1="239.2" x2="543.3" y2="239.2" stroke="#333" stroke-width="0.8"/><line x1="540.8" y1="228.4" x2="543.3" y2="228.4" stroke="#333" stroke-width="0.8"/><line x1="541.8" y1="217.6" x2="543.3" y2="217.6" stroke="#333" stroke-width="0.8"/><text transform="translate(545.72,232.50) scale(1.112,1)" font-family='"Liberation Sans", Arial, Helvetica, sans-serif' font-size="12.29" fill="#222">60</text><text transform="translate(546.13,254.10) scale(1.080,1)" font-family='"Liberation Sans", Arial, Helvetica, sans-serif' font-size="12.29" fill="#222">40</text><text transform="translate(545.72,275.70) scale(1.112,1)" font-family='"Liberation Sans", Arial, Helvetica, sans-serif' font-size="12.29" fill="#222">20</text><text transform="translate(545.92,297.30) scale(0.967,1)" font-family='"Liberation Sans", Arial, Helvetica, sans-serif' font-size="12.29" fill="#222">0</text><text transform="translate(546.73,318.90) scale(1.032,1)" font-family='"Liberation Sans", Arial, Helvetica, sans-serif' font-size="12.29" fill="#222">-20</text><text transform="translate(546.73,340.50) scale(1.032,1)" font-family='"Liberation Sans", Arial, Helvetica, sans-serif' font-size="12.29" fill="#222">-40</text><text transform="translate(546.73,362.10) scale(1.032,1)" font-family='"Liberation Sans", Arial, Helvetica, sans-serif' font-size="12.29" fill="#222">-60</text><rect x="377" y="213" width="60" height="24.5" fill="#c8ecf8" opacity="0.55"/><rect x="362" y="217.3" width="12.6" height="6.2" fill="#d62430" stroke="#3a2a20" stroke-width="0.5"/><rect x="362" y="229" width="12.6" height="6.2" fill="#f0820f" stroke="#3a2a20" stroke-width="0.5"/><text transform="translate(378.58,223.60) scale(1.106,1)" font-family='"Liberation Sans", Arial, Helvetica, sans-serif' font-size="10.34" fill="#222">Rolled-up SW</text><text transform="translate(380.35,234.50) scale(1.065,1)" font-family='"Liberation Sans", Arial, Helvetica, sans-serif' font-size="10.00" fill="#222">VO</text><text transform="translate(395.68,237.40) scale(1.088,1)" font-family='"Liberation Sans", Arial, Helvetica, sans-serif' font-size="5.86" fill="#222">2</text><text transform="translate(401.70,234.50) scale(1.113,1)" font-family='"Liberation Sans", Arial, Helvetica, sans-serif' font-size="10.14" fill="#222">NM</text><line x1="375.9" y1="329.2" x2="388" y2="329.2" stroke="#222" stroke-width="0.9"/><polygon points="386.5,326.9 390.6,329.2 386.5,331.5" fill="#222"/><text transform="translate(394.08,331.20) scale(1.622,1)" font-family='"Liberation Serif", "DejaVu Serif", serif' font-size="10.00" font-weight="bold" font-style="italic" fill="#222">τ</text><text transform="translate(402.21,333.30) scale(0.891,1)" font-family='"Liberation Sans", Arial, Helvetica, sans-serif' font-size="5.19" font-style="italic" fill="#222">avg</text><text transform="translate(411.02,331.90) scale(1.115,1)" font-family='"Liberation Sans", Arial, Helvetica, sans-serif' font-size="10.43" fill="#222">&lt;24 °C</text><text transform="translate(374.98,348.40) scale(1.600,1)" font-family='"Liberation Serif", "DejaVu Serif", serif' font-size="10.00" font-weight="bold" font-style="italic" fill="#222">τ</text><text transform="translate(382.91,350.00) scale(0.915,1)" font-family='"Liberation Sans", Arial, Helvetica, sans-serif' font-size="5.19" font-style="italic" fill="#222">avg</text><text transform="translate(391.27,348.40) scale(1.022,1)" font-family='"Liberation Sans", Arial, Helvetica, sans-serif' font-size="10.43" fill="#222">&gt; 24 °C</text><line x1="435.5" y1="346.1" x2="447.2" y2="346.1" stroke="#222" stroke-width="0.9"/><polygon points="437.4,343.8 433.3,346.1 437.4,348.4" fill="#222"/><text transform="translate(386.8,375.0) rotate(-38)" text-anchor="end" font-family='"Liberation Sans", Arial, Helvetica, sans-serif' font-size="13.3" fill="#222">Beijing</text><text transform="translate(414.1,376.9) rotate(-38)" text-anchor="end" font-family='"Liberation Sans", Arial, Helvetica, sans-serif' font-size="13.3" fill="#222">Moscow</text><text transform="translate(439.4,377.3) rotate(-38)" text-anchor="end" font-family='"Liberation Sans", Arial, Helvetica, sans-serif' font-size="13.3" fill="#222">Shanghai</text><text transform="translate(464.8,376.1) rotate(-38)" text-anchor="end" font-family='"Liberation Sans", Arial, Helvetica, sans-serif' font-size="13.3" fill="#222">Hong Kong</text><text transform="translate(490.1,377.3) rotate(-38)" text-anchor="end" font-family='"Liberation Sans", Arial, Helvetica, sans-serif' font-size="13.3" fill="#222">Albuquerque</text><text transform="translate(519.9,374.9) rotate(-38)" text-anchor="end" font-family='"Liberation Sans", Arial, Helvetica, sans-serif' font-size="13.3" fill="#222">Whitehorse</text><text transform="translate(545.6,374.1) rotate(-38)" text-anchor="end" font-family='"Liberation Sans", Arial, Helvetica, sans-serif' font-size="13.3" fill="#222">Seattle</text><text transform="translate(342.60,230.32) rotate(90) scale(1.093,1)" font-family='"Liberation Sans", Arial, Helvetica, sans-serif' font-size="13.0" fill="#222">Transmittance (%)</text><text transform="translate(574.2,176.6) rotate(90) scale(1.0,1)" font-family='"Liberation Sans", Arial, Helvetica, sans-serif' font-size="13.9" fill="#222">Annual energy conservation (MJ/m<tspan font-size="7.5" dy="-5">2</tspan><tspan dy="5">)</tspan></text></svg></body></html>
